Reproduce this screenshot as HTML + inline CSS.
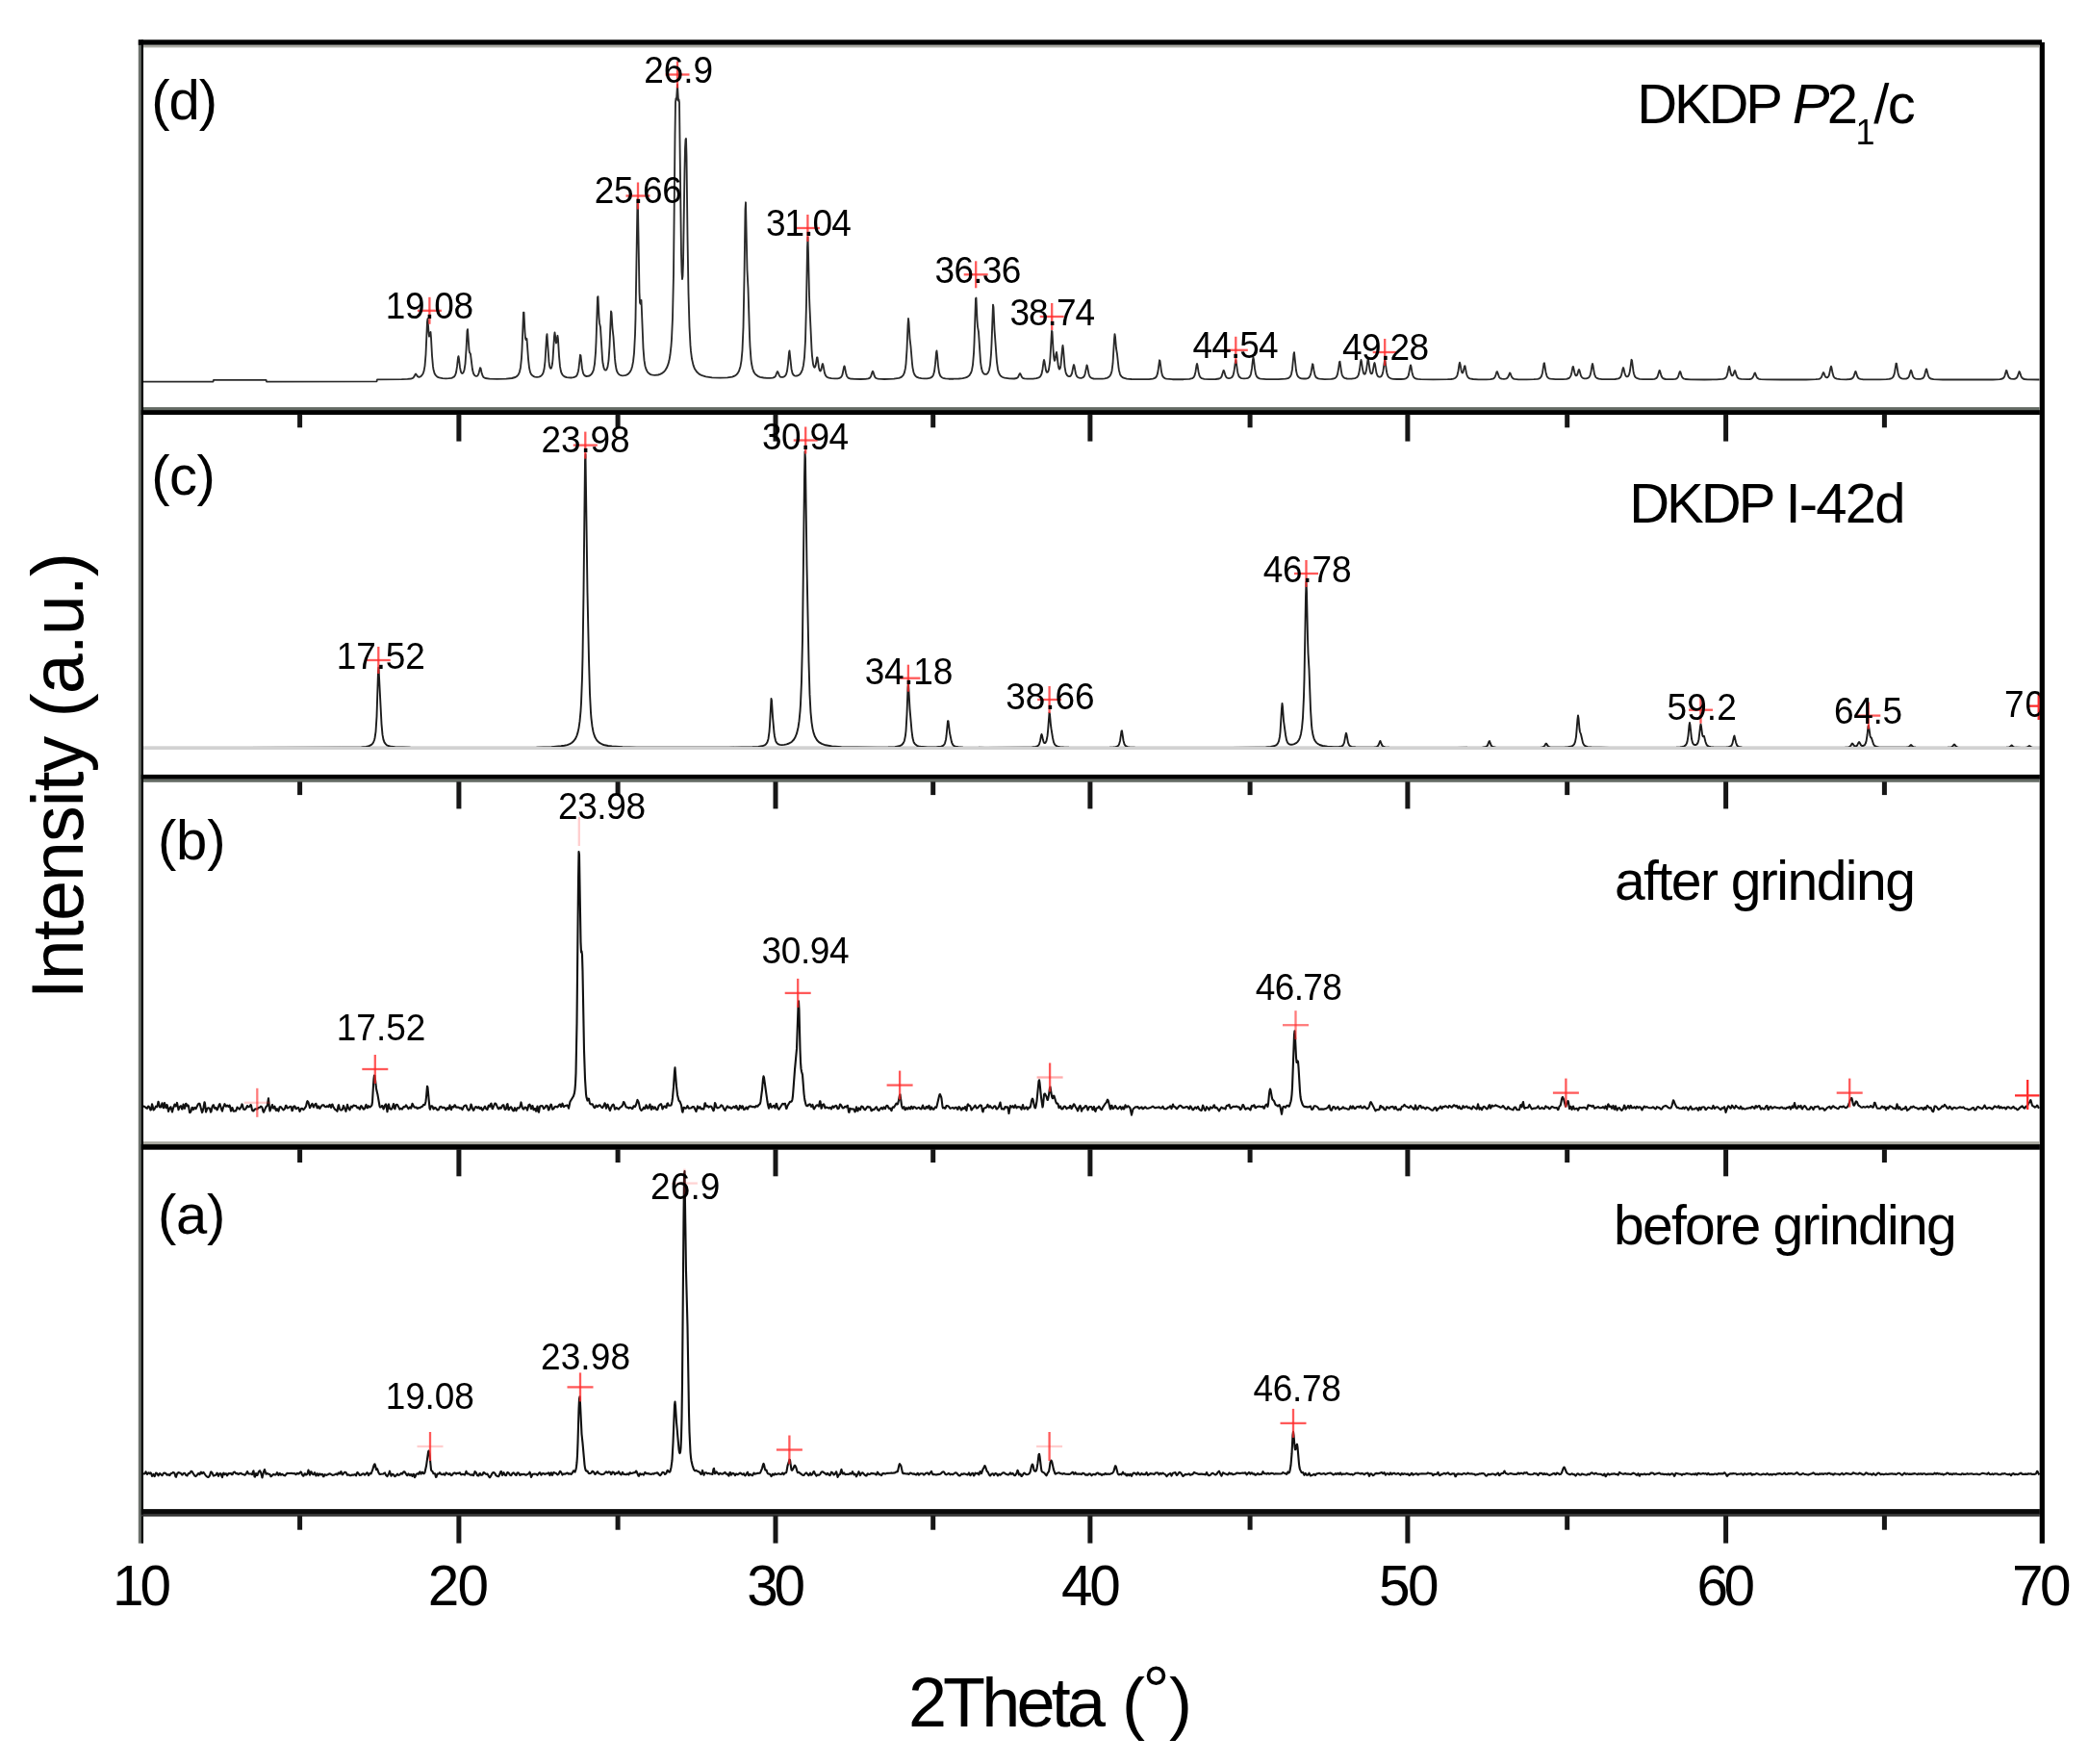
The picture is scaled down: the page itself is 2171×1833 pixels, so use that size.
<!DOCTYPE html>
<html lang="en"><head><meta charset="utf-8"><title>XRD patterns of DKDP before and after grinding</title>
<style>html,body{margin:0;padding:0;background:#fff}body{width:2171px;height:1833px;overflow:hidden}svg{display:block;filter:blur(0.55px)}text{font-family:"Liberation Sans",Arial,Helvetica,sans-serif;fill:#000}.pk{font-size:37px;letter-spacing:-0.4px}.big{font-size:58px}.tk{font-size:58.5px;letter-spacing:-1.2px}</style></head><body>
<svg width="2171" height="1833" viewBox="0 0 2171 1833">
<rect x="0" y="0" width="2171" height="1833" fill="#fff"/>
<g id="curves">
<rect x="149" y="775.3" width="1971" height="3.7" fill="#d2d2d2"/>
<clipPath id="clc"><rect x="140" y="430" width="2000" height="346.1"/></clipPath>
<polyline points="149.0,396.6 221.5,396.6 222.0,394.8 276.5,394.8 277.0,396.6 391.5,396.4 392.0,394.4 417.5,394.2 423.5,393.9 427.0,393.5 428.5,393.1 429.5,392.5 430.5,391.1 431.5,389.1 432.0,388.5 432.5,388.9 434.0,391.2 435.0,391.7 436.0,391.7 437.0,391.3 438.0,390.5 439.5,388.5 440.5,385.8 441.5,380.3 442.5,368.3 444.0,334.1 444.5,331.2 445.5,345.5 446.0,349.7 446.5,349.1 447.0,345.7 447.5,345.0 448.0,351.0 449.0,369.6 450.0,380.9 450.5,384.0 451.5,387.7 452.5,389.6 454.0,391.2 455.5,392.1 457.5,392.7 460.0,393.1 463.5,393.3 466.5,393.2 469.0,392.8 470.5,392.3 472.0,391.4 473.0,390.0 474.0,387.1 475.0,380.9 476.0,371.6 476.5,370.1 477.0,372.9 478.0,381.7 479.0,386.4 479.5,387.4 480.0,387.9 480.5,388.0 481.0,387.7 481.5,387.1 482.5,384.5 483.5,378.1 484.5,363.7 485.5,343.8 486.0,342.1 487.5,363.6 488.0,366.4 488.5,366.9 489.0,368.0 491.0,384.1 492.0,388.0 493.0,389.8 494.0,390.6 495.0,390.9 496.0,390.7 496.5,390.2 497.5,388.1 499.0,382.2 499.5,382.5 500.5,387.0 501.5,390.3 502.5,391.9 503.5,392.6 504.5,393.0 508.5,393.6 516.5,393.9 526.0,393.6 532.0,393.0 535.5,392.0 537.0,391.1 538.0,390.1 539.0,388.7 540.0,386.3 541.0,381.7 542.0,371.8 542.5,363.0 544.0,324.6 544.5,324.6 545.5,345.0 546.0,351.4 546.5,353.0 547.0,351.7 547.5,352.0 549.0,372.8 550.0,382.1 551.0,386.6 552.0,388.8 553.0,390.0 554.5,391.1 556.0,391.6 558.0,391.8 560.0,391.6 561.5,391.1 562.5,390.4 563.5,389.4 564.5,387.5 565.5,383.8 566.5,375.5 568.0,350.0 568.5,347.2 570.5,375.9 571.0,379.6 571.5,381.7 572.0,382.7 572.5,382.9 573.0,382.3 573.5,380.7 574.0,378.0 574.5,373.5 576.0,349.3 576.5,345.5 577.0,348.6 577.5,353.9 578.0,356.5 578.5,355.1 579.0,351.1 579.5,348.8 580.0,352.7 581.0,369.8 582.0,380.9 583.0,386.1 583.5,387.5 584.5,389.4 585.5,390.5 587.0,391.5 589.0,392.1 591.0,392.4 593.5,392.5 596.0,392.2 597.5,391.7 599.0,390.7 600.0,389.1 601.0,385.5 601.5,382.4 603.0,368.8 603.5,369.3 605.0,382.9 606.0,387.6 607.0,389.6 608.0,390.5 609.5,391.0 611.0,390.9 612.5,390.5 613.5,389.9 614.5,389.0 615.5,387.6 616.5,385.4 617.0,383.7 618.0,378.1 619.0,366.2 619.5,355.6 621.0,308.9 621.5,308.1 622.5,329.6 623.0,335.7 624.0,340.0 626.0,372.8 626.5,377.3 627.5,382.2 628.0,383.4 628.5,384.2 629.0,384.6 629.5,384.6 630.0,384.4 630.5,383.8 631.5,381.1 632.5,374.7 633.5,359.8 635.0,323.5 635.5,324.8 636.5,341.1 637.5,350.0 639.0,372.4 639.5,377.5 640.5,383.6 641.0,385.4 642.0,387.5 643.0,388.8 644.0,389.5 645.5,390.1 647.0,390.3 649.0,390.2 650.5,389.8 652.0,389.2 653.5,388.0 655.0,386.1 656.0,384.1 657.0,381.0 658.0,375.9 659.0,366.8 660.0,347.7 660.5,330.6 662.5,207.1 663.0,216.1 664.5,303.8 665.0,314.5 665.5,315.7 666.0,312.0 666.5,312.0 668.5,361.9 669.5,374.4 670.5,380.5 671.5,383.8 673.0,386.6 674.5,388.1 675.5,388.8 677.0,389.4 678.5,389.7 680.5,389.9 684.0,389.5 686.0,388.9 687.5,388.2 689.5,386.8 691.5,384.6 693.0,382.1 694.5,378.2 695.5,374.3 696.5,368.5 697.5,359.3 698.0,352.6 699.0,330.5 700.0,284.4 701.5,139.4 702.0,106.0 702.5,102.1 703.0,103.9 704.0,88.0 705.0,104.7 705.5,103.3 706.0,106.4 708.0,263.5 708.5,282.5 709.0,290.0 709.5,287.1 710.0,273.4 711.5,176.0 712.0,153.9 712.5,145.0 713.0,144.0 713.5,162.6 714.5,245.5 715.5,304.5 716.5,339.5 717.5,358.9 718.0,364.9 719.0,372.8 720.5,379.4 722.0,383.3 724.0,386.3 726.5,388.6 729.5,390.2 733.5,391.3 740.0,392.3 748.5,392.7 756.0,392.4 761.0,391.6 764.0,390.3 765.5,389.2 766.5,388.1 768.0,385.5 769.5,380.7 770.5,374.8 771.5,363.8 772.5,340.1 773.5,288.8 774.5,217.5 775.0,210.3 776.5,280.2 777.5,300.0 779.0,348.6 779.5,360.0 780.5,373.6 781.0,377.5 782.0,382.5 783.0,385.5 784.0,387.5 785.5,389.3 787.5,390.8 790.0,391.8 793.5,392.5 797.0,392.9 800.5,392.9 803.0,392.7 804.5,392.2 805.5,391.4 806.0,390.7 807.5,386.7 808.0,386.0 808.5,386.7 810.0,390.5 811.0,391.6 812.0,391.9 813.5,391.9 815.0,391.3 816.0,390.5 817.0,388.9 818.0,385.5 819.0,377.8 820.0,366.3 820.5,364.5 822.5,383.4 823.5,387.7 824.5,389.5 825.5,390.3 827.0,390.7 828.5,390.5 830.0,389.9 831.5,388.7 832.5,387.3 834.0,383.8 835.0,379.4 836.0,371.2 837.0,353.7 838.0,315.3 839.0,257.0 839.5,246.5 840.0,261.7 841.0,307.2 841.5,320.1 843.5,362.9 844.0,370.0 845.0,378.1 845.5,380.2 846.0,381.4 846.5,381.9 847.0,381.5 847.5,380.2 848.0,377.8 849.0,371.5 849.5,371.4 851.0,381.9 851.5,384.0 852.0,385.2 852.5,385.5 853.0,385.0 853.5,383.7 854.5,379.0 855.0,378.0 855.5,379.6 857.0,387.6 858.0,390.2 859.0,391.4 860.0,392.1 861.5,392.6 864.0,393.1 867.5,393.3 870.5,393.3 872.5,392.9 874.0,392.0 875.0,390.5 875.5,389.2 877.0,381.7 877.5,380.4 878.0,381.7 879.0,387.2 880.0,390.6 880.5,391.5 881.5,392.6 882.5,393.1 884.0,393.5 888.0,393.9 894.5,394.0 899.5,393.9 902.5,393.4 904.0,392.6 905.0,391.2 906.5,386.6 907.0,385.8 907.5,386.6 908.5,390.0 909.5,392.1 910.5,393.0 912.5,393.7 919.0,394.0 929.0,393.7 934.0,392.9 935.5,392.4 937.0,391.6 938.5,390.1 939.5,388.3 940.0,386.9 941.0,382.2 941.5,378.1 942.5,363.0 943.5,338.0 944.0,331.0 944.5,334.7 945.5,351.5 946.5,360.0 948.0,378.0 948.5,382.1 949.5,387.0 950.5,389.4 951.5,390.8 953.0,391.9 955.0,392.7 957.5,393.2 960.5,393.4 963.5,393.3 966.0,392.9 967.5,392.4 969.0,391.3 970.0,389.6 971.0,386.1 972.0,378.2 973.0,366.3 973.5,364.5 974.0,368.4 975.0,380.3 976.0,387.1 977.0,390.1 977.5,390.9 978.5,392.0 980.0,392.8 982.5,393.4 986.0,393.7 991.0,393.7 996.5,393.5 1000.5,393.1 1003.5,392.4 1005.5,391.6 1007.5,390.0 1009.0,387.6 1010.0,384.7 1011.0,379.1 1012.0,367.2 1012.5,356.6 1014.0,310.1 1014.5,309.6 1015.5,332.4 1016.0,339.3 1017.0,345.0 1019.0,375.8 1020.0,382.8 1021.0,386.2 1022.0,387.9 1022.5,388.4 1023.5,388.9 1025.0,388.9 1026.0,388.3 1027.0,387.0 1028.0,384.5 1029.0,379.3 1030.0,367.8 1030.5,357.5 1032.0,316.6 1032.5,319.2 1033.5,342.1 1035.5,370.3 1036.0,376.3 1037.0,383.7 1037.5,385.9 1038.5,388.5 1039.5,390.1 1040.5,391.0 1042.0,392.0 1044.0,392.7 1049.0,393.4 1054.0,393.5 1056.5,393.0 1057.5,392.4 1058.0,391.8 1059.5,388.6 1060.0,388.0 1060.5,388.6 1062.0,391.8 1063.0,392.8 1064.5,393.4 1068.0,393.7 1073.5,393.6 1077.0,393.2 1079.5,392.4 1080.5,391.8 1081.5,390.7 1082.5,388.5 1083.5,383.7 1084.5,376.0 1085.0,374.0 1085.5,375.6 1087.0,384.8 1087.5,386.2 1088.0,386.9 1088.5,386.9 1089.0,386.5 1089.5,385.5 1090.0,383.9 1091.0,377.2 1091.5,371.0 1093.0,343.9 1093.5,344.6 1094.5,362.3 1095.0,369.3 1095.5,373.5 1096.0,374.9 1096.5,374.0 1097.5,367.5 1098.0,366.0 1098.5,368.6 1099.5,378.0 1100.0,381.1 1100.5,382.9 1101.0,383.6 1101.5,383.3 1102.0,381.9 1102.5,379.2 1104.0,362.0 1104.5,359.0 1105.0,362.4 1106.5,381.1 1107.5,386.7 1108.0,388.2 1109.0,390.0 1110.0,390.8 1111.0,391.1 1112.0,391.0 1113.0,390.2 1114.0,388.0 1115.5,380.4 1116.0,379.0 1116.5,380.4 1118.0,388.5 1119.0,390.9 1120.0,392.0 1121.5,392.6 1123.5,392.8 1124.5,392.6 1125.5,392.2 1126.5,391.3 1127.5,389.1 1129.5,379.5 1130.0,380.4 1131.5,388.5 1132.5,391.2 1133.5,392.3 1134.5,392.9 1136.5,393.5 1139.0,393.7 1145.5,393.6 1148.0,393.3 1150.0,392.9 1151.5,392.3 1152.5,391.6 1153.5,390.6 1154.5,388.8 1155.5,385.4 1156.5,377.7 1158.0,352.4 1158.5,347.2 1159.0,349.9 1160.0,362.0 1161.0,368.0 1162.5,381.8 1163.0,385.0 1164.0,388.8 1164.5,389.9 1165.5,391.3 1167.5,392.7 1171.0,393.6 1176.0,394.0 1185.5,394.2 1194.0,394.1 1198.0,393.6 1199.5,393.2 1200.5,392.7 1201.5,391.8 1202.0,391.0 1203.0,388.1 1203.5,385.5 1205.0,374.3 1205.5,374.8 1207.0,386.1 1208.0,390.2 1208.5,391.2 1209.5,392.4 1211.0,393.3 1212.5,393.7 1218.5,394.2 1230.0,394.2 1236.0,393.9 1239.0,393.2 1240.5,392.1 1241.5,390.3 1242.5,386.2 1243.5,379.6 1244.0,378.0 1244.5,379.6 1245.5,386.2 1246.5,390.3 1247.5,392.1 1249.0,393.2 1251.5,393.8 1256.5,394.1 1263.5,394.0 1267.0,393.5 1268.5,392.7 1269.5,391.4 1271.5,385.0 1272.0,385.1 1273.5,390.3 1274.5,392.0 1275.0,392.5 1276.0,392.9 1277.0,393.1 1278.5,392.9 1279.5,392.5 1280.5,391.7 1281.5,390.0 1282.5,386.0 1284.0,374.8 1284.5,374.3 1286.0,385.4 1286.5,388.0 1287.5,390.9 1288.5,392.1 1289.5,392.8 1290.5,393.1 1293.0,393.4 1295.5,393.2 1297.0,392.8 1298.5,391.7 1299.5,390.0 1300.0,388.5 1301.0,382.9 1302.0,373.6 1302.5,371.4 1303.0,373.6 1304.0,382.9 1305.0,388.6 1306.0,391.1 1306.5,391.8 1307.5,392.7 1309.0,393.4 1310.5,393.7 1316.0,394.1 1328.5,394.2 1336.0,393.7 1338.5,393.1 1340.0,392.2 1341.0,391.1 1342.0,388.8 1343.0,383.7 1344.5,367.8 1345.0,366.1 1347.0,385.0 1348.0,389.4 1349.0,391.3 1350.5,392.6 1352.5,393.3 1355.0,393.5 1357.0,393.5 1359.0,393.1 1360.0,392.5 1361.0,391.5 1362.0,389.2 1362.5,387.2 1364.0,378.3 1364.5,378.6 1365.5,385.0 1366.5,389.6 1367.5,391.8 1368.5,392.7 1370.0,393.4 1371.5,393.7 1376.5,394.1 1383.5,393.8 1385.5,393.5 1387.0,393.1 1388.0,392.5 1389.0,391.4 1390.0,388.9 1391.0,383.5 1392.0,376.1 1392.5,375.7 1394.0,386.1 1394.5,388.5 1395.0,390.1 1396.0,391.8 1397.5,392.9 1400.0,393.5 1404.5,393.7 1408.0,393.1 1409.5,392.5 1410.5,391.8 1411.5,390.2 1412.0,388.9 1413.0,384.0 1414.0,376.0 1414.5,374.0 1415.0,375.8 1416.0,383.3 1417.0,387.6 1417.5,388.5 1418.0,388.8 1418.5,388.7 1419.0,388.0 1420.0,384.5 1421.5,373.5 1422.0,373.0 1423.5,383.8 1424.0,386.2 1424.5,387.6 1425.0,388.3 1425.5,388.4 1426.0,387.8 1426.5,386.6 1428.0,378.4 1428.5,377.0 1429.0,378.7 1430.5,387.6 1431.5,390.3 1432.5,391.4 1433.5,391.7 1434.5,391.6 1435.5,391.0 1436.5,389.3 1437.0,387.6 1437.5,385.2 1439.0,374.3 1439.5,374.8 1441.0,386.0 1441.5,388.4 1442.5,391.0 1443.5,392.2 1445.5,393.3 1448.0,393.8 1451.5,394.0 1456.0,394.0 1459.0,393.8 1461.0,393.3 1462.5,392.3 1463.5,390.6 1464.0,389.1 1465.5,380.9 1466.0,379.4 1466.5,380.9 1467.5,386.9 1468.5,390.6 1469.5,392.3 1470.5,393.1 1471.5,393.5 1473.5,393.9 1476.5,394.2 1489.5,394.4 1504.5,394.2 1508.0,394.0 1510.5,393.6 1512.0,393.0 1513.0,392.3 1514.0,391.0 1514.5,389.8 1515.5,385.5 1516.5,378.5 1517.0,376.7 1517.5,378.2 1518.5,384.4 1519.0,386.4 1519.5,387.4 1520.0,387.5 1520.5,386.7 1522.0,380.4 1522.5,380.3 1524.0,388.0 1524.5,389.8 1525.5,391.8 1526.5,392.8 1527.5,393.3 1531.0,394.0 1536.5,394.3 1544.5,394.3 1549.0,394.1 1551.5,393.6 1552.5,393.1 1553.5,392.0 1554.5,389.6 1555.5,386.3 1556.0,386.1 1558.0,391.8 1559.0,393.0 1560.0,393.5 1561.0,393.7 1563.0,393.8 1564.5,393.7 1565.5,393.4 1566.5,392.8 1567.5,391.3 1569.0,387.5 1569.5,387.7 1570.5,390.4 1571.5,392.4 1572.5,393.3 1574.0,393.9 1578.0,394.3 1586.5,394.4 1594.0,394.2 1598.0,393.8 1599.5,393.3 1600.5,392.8 1601.5,391.7 1602.0,390.8 1603.0,387.4 1604.5,377.7 1605.0,377.3 1606.5,386.9 1607.5,390.6 1608.0,391.6 1609.0,392.7 1610.0,393.3 1611.5,393.7 1616.5,394.2 1624.0,394.1 1628.0,393.8 1630.5,393.0 1631.5,392.1 1632.5,390.4 1633.5,386.5 1634.5,381.2 1635.0,380.9 1636.5,387.8 1637.0,389.2 1637.5,390.1 1638.0,390.4 1638.5,390.2 1639.0,389.6 1639.5,388.4 1640.5,384.8 1641.0,384.0 1641.5,385.0 1643.0,390.5 1644.0,392.1 1645.0,392.9 1646.5,393.3 1648.5,393.3 1650.0,392.9 1651.5,391.9 1652.5,390.1 1653.5,386.1 1654.5,379.6 1655.0,378.0 1655.5,379.6 1657.0,388.6 1658.0,391.3 1658.5,392.1 1659.5,392.9 1661.5,393.7 1665.0,394.1 1672.0,394.2 1678.5,394.0 1682.0,393.4 1683.0,392.9 1684.0,392.0 1685.0,389.9 1686.5,383.2 1687.0,382.0 1687.5,383.1 1688.5,387.7 1689.5,390.5 1690.5,391.4 1691.5,391.3 1692.0,391.0 1693.0,389.3 1693.5,387.6 1694.0,385.0 1695.5,373.8 1696.0,374.3 1697.5,385.9 1698.0,388.3 1699.0,391.1 1700.0,392.3 1701.5,393.2 1704.0,393.8 1707.5,394.1 1717.0,394.1 1719.5,393.8 1721.0,393.2 1722.0,392.3 1722.5,391.5 1724.5,385.0 1725.0,385.2 1726.5,390.5 1727.5,392.4 1729.0,393.5 1731.0,394.0 1734.5,394.2 1738.5,394.1 1741.0,393.8 1742.5,393.3 1743.5,392.3 1744.0,391.5 1745.5,386.8 1746.0,386.0 1746.5,386.8 1747.5,390.3 1748.5,392.4 1749.5,393.3 1751.5,394.0 1757.0,394.4 1771.5,394.5 1784.0,394.3 1790.0,393.9 1791.5,393.6 1793.0,392.9 1794.0,391.8 1794.5,390.9 1795.5,387.6 1796.5,382.1 1797.0,380.7 1797.5,381.9 1798.5,387.1 1799.5,389.9 1800.0,390.4 1800.5,390.4 1801.0,389.9 1801.5,388.9 1802.5,385.7 1803.0,385.0 1803.5,386.0 1804.5,389.7 1805.5,391.9 1806.0,392.6 1807.0,393.3 1809.5,393.9 1816.0,394.2 1818.5,394.0 1820.0,393.6 1821.0,393.0 1821.5,392.4 1822.5,390.4 1823.5,387.7 1824.0,387.5 1825.5,391.4 1826.5,392.9 1828.0,393.8 1830.0,394.2 1836.0,394.4 1851.5,394.5 1877.0,394.5 1887.0,394.2 1890.0,393.9 1891.0,393.6 1892.0,393.0 1893.0,391.8 1894.5,387.7 1895.0,387.0 1895.5,387.6 1896.5,390.4 1897.5,391.9 1898.5,392.3 1899.5,392.0 1900.5,390.7 1901.0,389.4 1902.5,382.0 1903.0,380.7 1903.5,382.1 1904.5,387.6 1905.5,391.0 1906.0,391.9 1907.0,392.9 1909.0,393.7 1912.5,394.2 1918.5,394.3 1922.5,394.0 1924.5,393.5 1925.5,392.8 1926.5,391.3 1928.0,386.5 1928.5,386.0 1929.0,387.1 1930.0,390.5 1931.0,392.5 1932.0,393.4 1933.5,393.9 1936.5,394.3 1942.0,394.4 1953.5,394.4 1960.5,394.2 1963.0,393.9 1965.0,393.5 1966.5,392.7 1967.5,391.6 1968.5,389.2 1969.0,387.0 1970.5,377.6 1971.0,377.9 1972.5,387.5 1973.5,390.8 1974.0,391.7 1975.0,392.7 1976.5,393.4 1978.0,393.6 1981.0,393.5 1982.0,393.2 1983.0,392.5 1984.0,390.9 1985.5,385.7 1986.0,384.8 1986.5,385.7 1988.0,391.0 1988.5,391.9 1989.5,393.0 1991.0,393.6 1993.0,393.9 1995.5,393.8 1997.5,393.4 1999.0,392.4 2000.0,390.5 2001.5,384.5 2002.0,383.4 2002.5,384.5 2004.0,390.6 2005.0,392.4 2006.5,393.5 2009.5,394.1 2019.0,394.5 2048.5,394.5 2071.0,394.5 2078.5,394.1 2081.0,393.5 2082.0,392.9 2082.5,392.4 2083.5,390.3 2085.0,385.0 2085.5,385.2 2086.5,388.9 2087.5,391.7 2088.5,392.9 2090.0,393.6 2093.0,393.8 2094.5,393.5 2095.5,392.9 2096.5,391.6 2098.5,386.0 2099.0,386.6 2100.5,391.3 2101.5,392.8 2102.5,393.5 2104.0,394.0 2107.0,394.3 2119.5,394.5" fill="none" stroke="#2a2a2a" stroke-width="1.85" stroke-linejoin="round" />
<polyline points="149.0,777.0 357.0,776.8 375.5,776.4 380.5,775.9 383.5,775.2 386.0,773.9 387.0,772.9 388.0,771.5 389.0,769.0 389.5,767.0 390.5,760.3 391.5,744.8 393.0,697.8 393.5,693.7 396.5,752.3 397.5,763.4 398.5,768.7 399.5,771.4 401.0,773.4 402.0,774.3 403.5,775.0 406.5,775.8 410.5,776.3 426.5,776.8 504.5,776.9 557.5,776.6 573.0,776.1 583.0,775.3 586.5,774.8 589.5,774.1 592.0,773.1 594.0,772.0 596.0,770.3 598.0,767.6 599.5,764.3 600.5,761.1 601.5,756.6 602.5,749.7 603.5,738.8 604.0,730.6 605.0,704.2 605.5,683.1 606.5,615.8 608.0,478.4 608.5,472.0 610.5,615.7 612.0,685.5 613.0,720.7 614.0,740.4 614.5,746.6 615.5,754.9 616.5,760.2 617.5,763.7 618.5,766.3 620.0,768.9 621.5,770.6 623.5,772.2 626.0,773.5 628.5,774.3 632.0,775.0 636.0,775.5 647.0,776.2 661.5,776.6 683.5,776.7 757.0,776.7 782.0,776.3 788.0,775.9 792.0,775.3 794.5,774.4 795.5,773.8 796.5,772.7 797.5,771.0 798.5,767.7 799.5,760.3 800.0,753.7 801.5,726.0 802.0,728.0 803.0,744.5 804.5,761.3 805.0,765.0 806.0,769.5 806.5,770.8 807.5,772.3 809.0,773.4 810.5,773.9 812.5,774.1 815.0,773.9 817.5,773.4 820.0,772.5 821.5,771.7 823.0,770.7 825.0,768.5 826.5,766.0 828.0,762.2 829.5,756.0 830.5,749.4 831.5,739.1 832.0,731.6 833.0,707.9 834.0,664.4 836.0,494.7 836.5,469.3 837.0,476.6 838.5,588.1 840.5,687.5 841.5,721.4 842.5,740.1 843.5,750.6 844.5,757.1 845.5,761.4 847.0,765.6 849.0,769.0 851.0,771.1 854.0,772.9 858.0,774.3 864.5,775.4 874.5,776.1 890.0,776.5 911.5,776.6 923.0,776.5 930.0,776.1 934.5,775.3 937.0,774.1 938.5,772.5 939.5,770.6 940.0,769.2 941.0,764.1 941.5,759.5 942.5,742.2 943.5,714.8 944.0,709.5 945.5,736.3 947.5,759.5 948.5,767.1 949.5,770.8 950.0,771.9 951.0,773.3 953.0,774.8 954.5,775.4 956.5,775.8 964.0,776.4 973.5,776.3 978.0,775.7 979.5,775.2 980.5,774.5 981.5,773.3 982.0,772.3 983.0,768.5 983.5,765.0 985.0,749.1 985.5,749.1 987.0,761.5 989.0,771.1 989.5,772.5 990.5,774.2 991.5,775.1 993.0,775.7 996.0,776.3 1001.0,776.6 1024.0,776.9 1065.0,776.7 1072.5,776.5 1076.5,775.9 1078.5,775.1 1079.5,774.1 1080.0,773.2 1081.0,770.0 1082.0,764.4 1082.5,763.0 1083.0,764.2 1084.0,769.1 1084.5,770.8 1085.0,771.7 1085.5,772.1 1086.0,772.1 1086.5,771.8 1087.5,769.9 1088.5,764.9 1089.0,760.2 1090.5,740.6 1091.0,742.0 1092.0,753.5 1092.5,757.2 1094.0,766.5 1095.0,771.1 1096.0,773.3 1097.0,774.5 1099.0,775.6 1101.5,776.1 1105.5,776.5 1111.0,776.7 1135.5,776.9 1153.0,776.7 1157.0,776.5 1159.5,776.1 1161.5,775.3 1162.5,774.3 1163.0,773.4 1164.0,770.0 1165.5,759.7 1166.0,759.3 1167.5,769.5 1168.5,773.2 1169.5,774.8 1170.5,775.5 1172.0,776.1 1174.0,776.5 1179.5,776.8 1191.5,776.9 1279.0,776.9 1308.0,776.6 1315.5,776.4 1320.5,776.0 1324.0,775.3 1326.0,774.4 1327.0,773.7 1328.0,772.4 1329.0,770.2 1330.0,765.4 1330.5,761.0 1332.0,736.1 1332.5,731.0 1333.0,734.5 1334.0,748.8 1336.0,763.5 1337.0,768.9 1338.0,771.5 1338.5,772.2 1339.5,773.1 1340.5,773.5 1342.0,773.7 1343.5,773.6 1345.0,773.2 1347.0,772.2 1348.5,770.9 1350.0,768.7 1351.0,766.3 1352.0,762.7 1353.0,756.7 1354.0,745.8 1355.0,723.8 1355.5,705.5 1357.0,619.6 1357.5,605.0 1358.0,614.8 1359.0,662.8 1359.5,678.7 1360.5,696.0 1362.0,736.8 1363.0,753.1 1363.5,757.9 1364.5,763.8 1365.5,767.3 1366.5,769.5 1368.0,771.6 1369.5,772.9 1371.5,774.0 1374.5,775.0 1379.5,775.7 1386.5,776.1 1391.5,776.0 1393.0,775.8 1394.5,775.3 1395.5,774.6 1396.0,774.0 1397.0,771.6 1398.5,763.3 1399.0,761.8 1399.5,763.3 1401.0,771.7 1402.0,774.1 1403.0,775.1 1404.5,775.8 1406.5,776.3 1409.0,776.5 1423.5,776.7 1427.5,776.6 1430.0,776.2 1431.0,775.9 1432.0,775.1 1433.0,773.3 1434.0,770.5 1434.5,770.0 1436.0,773.8 1436.5,774.7 1437.5,775.7 1439.5,776.4 1444.0,776.8 1513.5,776.9 1540.5,776.7 1543.5,776.3 1545.0,775.6 1546.0,774.3 1547.5,770.3 1548.0,770.1 1549.5,774.1 1550.5,775.5 1552.0,776.3 1554.5,776.7 1560.5,776.9 1575.5,776.9 1594.5,776.9 1601.0,776.7 1603.0,776.4 1604.5,775.7 1605.5,774.5 1606.5,772.7 1607.0,772.6 1609.0,775.6 1610.0,776.2 1611.0,776.5 1614.0,776.7 1619.0,776.8 1625.5,776.6 1629.5,776.3 1632.5,775.8 1634.5,774.9 1636.0,773.3 1637.0,770.9 1638.0,765.6 1639.5,747.2 1640.0,743.5 1640.5,746.3 1641.5,757.5 1642.0,760.5 1643.0,763.0 1645.0,771.9 1646.0,773.9 1647.5,775.2 1650.0,776.1 1654.0,776.5 1672.5,776.9 1727.5,776.9 1742.0,776.6 1746.0,776.4 1748.5,776.0 1750.5,775.3 1752.0,774.1 1753.0,772.2 1753.5,770.6 1754.5,764.3 1755.5,753.7 1756.0,751.0 1756.5,753.6 1758.0,767.8 1759.0,771.8 1760.0,773.4 1761.0,774.0 1762.5,774.0 1763.5,773.4 1764.5,771.9 1765.5,768.2 1767.0,755.0 1767.5,752.4 1768.0,754.5 1769.0,762.6 1769.5,764.8 1770.0,765.3 1770.5,764.9 1771.0,765.0 1772.5,771.0 1773.5,773.6 1774.5,774.8 1776.0,775.6 1778.0,776.1 1781.0,776.5 1787.5,776.7 1793.5,776.6 1796.5,776.2 1798.5,775.5 1799.5,774.6 1800.5,772.4 1802.0,765.4 1802.5,764.6 1804.0,771.3 1805.0,774.1 1806.0,775.3 1807.0,775.9 1808.5,776.3 1810.5,776.6 1818.5,776.9 1840.5,776.9 1900.5,776.9 1917.5,776.7 1921.0,776.4 1922.5,775.8 1923.5,774.7 1924.5,773.0 1925.0,772.5 1925.5,772.9 1927.0,775.0 1928.0,775.4 1929.0,775.3 1930.0,774.6 1931.5,771.6 1932.0,771.0 1932.5,771.5 1934.0,774.3 1935.0,775.0 1936.0,775.0 1937.0,774.7 1938.0,773.9 1939.0,772.0 1939.5,770.3 1940.5,764.0 1941.5,754.7 1942.0,754.0 1943.5,764.5 1944.0,766.0 1945.0,767.0 1947.0,773.3 1948.0,774.8 1949.0,775.5 1950.5,776.0 1952.5,776.4 1956.5,776.7 1963.0,776.8 1981.0,776.7 1983.5,776.2 1984.5,775.5 1985.5,774.3 1986.0,774.0 1986.5,774.3 1987.5,775.5 1988.5,776.3 1991.0,776.8 2002.0,776.9 2024.0,776.8 2027.0,776.6 2028.5,776.1 2029.5,775.3 2030.5,773.9 2031.0,773.5 2031.5,773.9 2032.5,775.3 2033.5,776.1 2035.0,776.6 2038.0,776.9 2065.5,777.0 2085.0,776.8 2088.0,776.4 2089.0,775.9 2090.5,774.5 2091.0,774.7 2092.0,775.7 2093.0,776.3 2095.0,776.8 2101.0,776.9 2105.5,776.7 2107.0,776.3 2109.0,775.0 2111.0,776.3 2112.0,776.6 2114.5,776.9 2119.5,777.0" fill="none" stroke="#1c1c1c" stroke-width="1.9" stroke-linejoin="round" clip-path="url(#clc)"/>
<polyline points="149.0,1149.1 152.5,1151.7 153.0,1151.8 154.0,1149.5 154.5,1149.5 155.5,1151.0 156.5,1153.5 157.0,1153.1 158.0,1147.4 158.5,1148.8 159.5,1153.4 160.5,1152.6 162.0,1149.5 163.0,1150.3 163.5,1149.6 164.5,1144.7 165.0,1146.1 166.0,1150.4 167.0,1150.4 167.5,1149.5 168.5,1146.3 169.5,1150.9 170.0,1151.3 171.0,1146.0 172.5,1151.3 173.5,1148.0 174.0,1149.1 175.0,1154.9 176.5,1151.2 177.5,1150.2 179.0,1155.4 180.0,1151.6 181.5,1147.6 182.5,1149.5 183.0,1149.3 184.0,1145.9 185.5,1153.2 186.5,1150.5 187.0,1149.8 188.0,1149.2 189.0,1152.5 189.5,1152.5 190.5,1147.6 192.0,1151.8 193.0,1147.0 193.5,1146.9 194.5,1149.4 195.5,1148.4 196.0,1149.4 197.0,1155.8 197.5,1156.1 198.5,1154.8 199.5,1151.0 200.0,1150.9 201.0,1153.0 202.0,1151.1 202.5,1150.8 203.5,1152.2 206.0,1147.3 206.5,1146.9 207.5,1146.7 210.0,1156.1 210.5,1155.0 211.5,1151.0 212.5,1145.2 213.0,1146.7 214.0,1155.5 215.5,1151.7 216.5,1151.3 217.5,1151.5 218.0,1152.0 219.0,1155.6 219.5,1155.0 220.5,1150.3 221.5,1148.2 222.0,1148.3 223.0,1151.8 223.5,1151.7 224.0,1151.2 224.5,1151.0 225.5,1153.3 226.0,1152.9 228.0,1147.4 228.5,1147.2 230.5,1153.7 231.0,1154.6 232.0,1150.8 233.5,1147.1 234.5,1149.2 235.0,1149.7 236.0,1148.6 237.5,1150.1 238.5,1148.5 239.0,1149.7 240.0,1154.5 241.0,1151.3 241.5,1151.0 242.5,1154.5 243.0,1154.7 244.0,1154.4 245.0,1154.5 245.5,1153.6 246.5,1150.5 249.0,1152.6 250.5,1150.3 251.5,1147.4 252.0,1148.2 253.0,1152.5 254.0,1152.9 254.5,1152.9 255.5,1152.0 257.0,1149.0 258.0,1150.3 258.5,1150.3 259.5,1149.6 260.5,1148.0 261.0,1148.5 262.0,1153.5 262.5,1154.2 263.0,1154.4 263.5,1154.4 264.5,1152.9 265.0,1152.5 266.0,1152.3 267.0,1152.5 267.5,1152.3 268.5,1151.1 270.0,1150.7 271.0,1149.6 271.5,1149.8 272.5,1150.9 273.5,1155.0 274.0,1155.7 276.5,1150.1 277.5,1149.4 278.0,1147.4 279.0,1141.2 280.0,1151.7 280.5,1154.4 283.0,1148.0 284.0,1151.4 284.5,1151.6 285.5,1149.7 286.5,1153.2 287.0,1153.9 288.0,1152.1 289.0,1154.0 289.5,1154.6 290.5,1150.7 291.0,1150.0 292.0,1150.3 294.5,1153.3 295.5,1152.6 296.0,1152.0 297.0,1148.8 297.5,1148.9 298.5,1151.4 300.0,1150.9 301.0,1150.1 302.0,1149.7 302.5,1149.9 303.5,1154.2 304.0,1153.9 305.0,1150.1 306.0,1149.3 306.5,1149.6 307.5,1152.2 308.0,1152.1 309.0,1151.3 310.0,1150.9 310.5,1151.7 311.5,1154.9 313.0,1152.1 314.0,1151.8 315.5,1153.1 316.5,1151.9 318.0,1149.6 319.0,1145.3 319.5,1144.2 320.5,1145.4 322.0,1151.2 323.0,1149.0 324.5,1146.8 325.5,1150.0 326.0,1150.5 327.0,1148.2 328.0,1147.0 328.5,1146.9 329.5,1151.0 330.0,1151.3 331.0,1149.4 332.0,1151.5 332.5,1151.8 333.5,1150.0 334.5,1148.8 335.0,1148.4 336.0,1148.2 336.5,1148.5 337.5,1149.8 338.5,1150.2 339.0,1150.2 340.0,1149.2 341.0,1150.0 341.5,1150.1 342.5,1147.9 343.0,1148.3 344.0,1151.0 345.0,1147.8 345.5,1147.5 346.5,1150.3 347.5,1151.9 348.0,1152.6 349.0,1153.3 350.5,1154.8 351.5,1149.1 352.0,1148.2 353.0,1152.3 353.5,1153.0 354.5,1153.6 355.5,1153.3 356.0,1152.2 357.0,1148.9 359.5,1154.9 361.0,1147.9 362.0,1151.3 362.5,1152.3 363.5,1153.4 364.5,1150.3 365.0,1149.6 366.0,1150.7 367.5,1148.5 368.5,1149.0 370.0,1149.1 371.0,1150.8 371.5,1151.2 372.5,1150.7 373.5,1152.3 374.0,1152.7 375.0,1149.4 375.5,1149.1 376.5,1150.5 377.5,1152.3 378.0,1152.7 379.0,1152.0 380.0,1148.9 380.5,1147.9 381.5,1151.3 382.0,1151.3 383.0,1149.1 384.0,1150.3 384.5,1150.5 386.0,1149.1 386.5,1148.0 387.0,1145.0 388.0,1127.6 388.5,1120.8 389.0,1117.5 389.5,1117.7 391.0,1130.7 391.5,1133.6 392.5,1137.6 394.5,1149.3 395.0,1150.5 395.5,1150.5 396.0,1150.3 397.0,1149.0 397.5,1149.2 398.5,1152.5 399.0,1151.6 400.0,1148.7 401.0,1147.3 401.5,1149.0 402.5,1155.3 403.5,1148.6 404.0,1147.4 405.0,1151.8 405.5,1152.4 406.5,1152.8 407.5,1151.5 409.0,1147.1 410.0,1151.8 410.5,1152.3 411.5,1148.1 412.0,1147.8 413.0,1148.1 415.5,1152.7 416.5,1151.8 417.0,1151.8 418.0,1152.6 419.5,1150.0 420.5,1150.4 421.0,1150.0 422.0,1148.4 424.5,1152.1 426.0,1150.4 427.0,1151.7 427.5,1150.7 428.5,1146.7 430.0,1149.8 431.0,1150.8 432.5,1150.5 433.5,1151.8 434.0,1151.9 435.0,1151.1 436.0,1151.2 436.5,1151.1 437.5,1150.2 439.0,1149.7 440.0,1148.0 440.5,1147.9 441.0,1148.1 441.5,1147.9 442.0,1146.5 442.5,1144.2 443.0,1140.0 444.0,1128.7 444.5,1130.2 446.5,1151.6 447.0,1152.7 448.0,1149.2 449.0,1149.2 449.5,1149.7 450.5,1152.4 451.0,1152.1 452.0,1150.9 453.0,1151.5 454.5,1153.4 455.5,1153.3 456.0,1152.8 457.0,1150.3 457.5,1150.0 458.5,1149.9 459.5,1151.2 460.0,1151.3 461.0,1150.6 462.0,1151.0 462.5,1151.5 463.5,1153.5 465.0,1151.1 466.0,1152.3 466.5,1151.6 467.5,1148.4 468.5,1152.5 469.0,1153.1 470.0,1150.0 470.5,1150.0 471.0,1150.4 471.5,1150.5 472.5,1148.3 473.0,1148.5 474.0,1150.6 476.5,1150.5 478.0,1151.8 479.0,1151.2 479.5,1151.5 480.5,1153.1 482.0,1149.8 483.0,1148.9 484.0,1148.5 484.5,1148.7 485.5,1151.7 486.0,1152.6 487.0,1153.7 488.0,1152.9 488.5,1151.9 489.5,1147.5 490.0,1148.5 491.0,1152.0 492.0,1153.8 492.5,1153.4 493.5,1151.1 494.5,1150.1 495.0,1150.1 496.0,1151.5 497.5,1150.1 498.5,1152.0 499.0,1152.0 500.0,1150.9 501.0,1153.3 501.5,1153.7 504.0,1149.6 505.0,1151.8 505.5,1152.4 506.5,1153.0 507.5,1149.4 508.0,1148.6 509.0,1149.9 510.0,1147.2 510.5,1146.5 511.5,1151.8 512.0,1152.1 514.0,1147.1 514.5,1146.5 515.5,1147.1 517.0,1150.6 518.0,1152.2 518.5,1152.1 519.5,1150.7 520.5,1151.7 521.0,1151.4 522.0,1148.8 523.0,1148.2 523.5,1148.5 524.5,1152.6 525.0,1153.1 526.0,1152.0 527.0,1147.4 527.5,1147.2 528.5,1153.1 529.0,1152.9 530.0,1151.1 531.0,1150.2 531.5,1150.7 532.5,1153.1 533.5,1154.4 534.0,1154.2 535.0,1151.2 536.5,1154.2 537.5,1151.5 538.0,1151.1 539.0,1151.6 540.0,1150.8 540.5,1149.7 541.5,1145.4 543.0,1151.5 544.0,1152.6 544.5,1152.3 545.5,1150.6 546.5,1150.7 547.0,1151.2 548.0,1153.6 549.5,1148.1 550.5,1147.7 551.0,1148.7 552.0,1152.3 553.0,1149.2 553.5,1149.1 554.5,1153.3 555.0,1153.0 555.5,1152.1 556.0,1151.8 557.0,1154.7 557.5,1153.9 558.5,1149.5 559.5,1155.2 560.0,1155.7 561.0,1150.0 561.5,1149.4 563.5,1149.0 564.0,1149.7 565.0,1152.1 566.5,1150.8 567.5,1148.9 568.5,1149.0 569.0,1149.5 570.0,1153.4 570.5,1153.3 571.5,1150.0 572.5,1147.7 573.0,1148.0 574.0,1152.5 574.5,1152.7 575.5,1151.9 576.5,1150.2 577.0,1149.9 578.0,1149.8 579.0,1150.5 579.5,1150.4 581.0,1148.2 581.5,1147.7 582.0,1147.5 583.0,1150.1 583.5,1149.7 584.5,1146.7 585.5,1149.5 586.0,1150.2 587.0,1149.3 589.5,1148.4 590.0,1149.1 591.0,1151.7 592.5,1144.7 596.0,1139.0 597.0,1135.6 597.5,1132.1 598.0,1126.2 598.5,1115.1 599.5,1063.3 601.0,914.9 601.5,885.0 602.0,887.9 603.5,978.6 604.0,989.5 604.5,988.5 605.0,992.1 605.5,1009.4 607.0,1091.3 608.0,1121.0 609.0,1136.8 609.5,1140.3 610.5,1143.6 611.5,1141.6 612.0,1141.8 613.0,1146.6 613.5,1147.2 614.0,1147.4 615.5,1147.2 616.0,1147.9 617.0,1150.2 618.0,1151.1 618.5,1150.9 619.5,1148.7 621.0,1150.1 622.0,1148.8 622.5,1148.5 623.5,1148.4 625.0,1150.5 626.0,1151.2 627.5,1148.9 628.5,1146.3 629.0,1147.1 630.0,1151.7 631.0,1148.2 631.5,1147.7 633.5,1153.2 634.0,1154.0 635.0,1151.1 636.5,1148.2 637.5,1147.7 638.0,1148.5 639.0,1152.7 639.5,1152.4 640.5,1151.0 643.0,1152.6 644.5,1150.6 645.5,1150.2 647.0,1148.5 648.0,1145.1 648.5,1145.2 650.5,1150.0 651.0,1150.6 652.0,1150.5 653.5,1151.6 654.5,1150.7 655.0,1150.7 656.0,1151.2 657.0,1152.2 657.5,1151.9 658.5,1149.3 659.0,1149.4 659.5,1149.9 660.0,1150.0 661.0,1148.0 662.5,1142.9 663.5,1145.0 664.0,1146.6 665.0,1151.4 665.5,1152.5 666.5,1154.0 667.5,1153.2 669.0,1150.7 670.0,1152.1 670.5,1151.8 671.5,1148.3 672.0,1149.1 673.0,1151.7 674.0,1151.2 675.5,1147.5 676.5,1152.2 677.0,1152.9 678.0,1149.7 678.5,1150.3 679.5,1152.1 680.5,1150.3 681.0,1150.6 682.0,1152.9 683.0,1153.3 683.5,1152.8 684.5,1149.4 685.0,1148.7 686.0,1147.6 687.0,1147.1 687.5,1148.2 688.5,1152.4 690.0,1149.8 691.0,1149.4 692.0,1150.8 692.5,1151.0 693.5,1146.6 694.0,1146.4 695.0,1148.8 697.0,1148.6 697.5,1148.3 698.0,1146.9 698.5,1144.4 699.0,1140.7 700.0,1129.4 701.0,1113.3 701.5,1109.3 703.0,1128.9 704.0,1137.7 705.5,1143.7 706.0,1144.3 706.5,1144.4 708.0,1148.4 709.0,1154.8 709.5,1155.7 710.5,1150.7 711.0,1150.7 712.0,1151.6 713.0,1151.6 713.5,1151.0 714.5,1149.1 715.5,1151.2 716.0,1151.8 718.5,1151.3 719.5,1150.2 720.0,1150.0 721.0,1150.0 723.5,1155.0 725.0,1149.4 726.0,1151.5 726.5,1151.5 727.5,1150.2 728.5,1151.9 729.0,1152.4 730.0,1151.8 731.0,1152.6 731.5,1152.4 732.5,1146.5 733.0,1146.3 734.0,1149.7 735.0,1149.1 735.5,1149.2 736.5,1150.6 738.0,1149.5 739.0,1149.6 739.5,1150.2 741.5,1154.2 742.0,1153.3 743.0,1146.0 743.5,1146.8 744.5,1150.4 745.5,1151.3 746.0,1151.4 748.0,1150.4 748.5,1149.9 749.5,1148.4 750.0,1148.5 751.0,1149.3 752.0,1151.8 753.5,1154.0 755.0,1150.8 756.0,1149.4 757.5,1151.0 758.5,1150.5 759.0,1150.8 760.0,1152.0 761.5,1150.9 762.5,1149.8 764.0,1151.1 765.0,1149.0 765.5,1149.5 766.5,1152.5 767.5,1153.1 768.0,1152.5 769.0,1148.9 769.5,1149.5 770.5,1151.5 771.5,1149.3 772.0,1149.8 773.0,1153.0 774.0,1152.7 774.5,1152.3 775.5,1150.5 777.0,1152.5 778.0,1150.3 778.5,1149.8 779.5,1149.4 781.0,1149.7 782.0,1150.3 783.5,1150.0 784.5,1150.6 785.0,1150.3 786.0,1149.0 787.0,1149.7 787.5,1149.6 788.5,1148.0 789.5,1147.5 790.0,1146.6 790.5,1144.2 792.0,1132.5 793.0,1121.2 793.5,1118.4 794.0,1119.7 797.5,1144.8 798.0,1147.7 799.0,1151.7 800.0,1147.4 800.5,1146.8 801.5,1150.6 802.0,1150.6 804.0,1148.8 804.5,1149.3 805.5,1151.4 806.5,1147.3 807.0,1146.8 808.0,1150.6 809.0,1152.4 809.5,1152.8 813.0,1147.2 813.5,1146.9 814.5,1147.5 815.5,1146.8 816.0,1146.9 817.0,1151.9 817.5,1152.0 818.5,1149.0 821.0,1144.9 822.0,1144.9 822.5,1144.6 823.0,1143.9 823.5,1142.2 824.0,1138.5 826.0,1111.7 828.0,1089.9 829.5,1045.9 830.0,1040.3 830.5,1049.5 831.5,1090.4 832.0,1103.4 832.5,1110.4 833.0,1113.3 834.0,1116.9 835.5,1136.5 836.0,1140.7 836.5,1143.8 837.5,1147.7 838.0,1148.8 839.0,1149.3 839.5,1149.1 840.5,1147.7 841.5,1147.4 842.0,1147.5 843.0,1149.9 843.5,1149.8 844.5,1147.9 845.5,1151.8 846.0,1152.5 847.0,1150.7 848.5,1148.5 849.5,1148.4 851.0,1149.6 852.0,1144.4 852.5,1144.4 853.5,1151.8 854.0,1151.1 855.0,1147.9 856.0,1147.3 856.5,1148.1 857.5,1151.4 858.5,1150.7 859.0,1150.5 861.5,1151.6 862.5,1150.7 863.0,1150.9 864.0,1152.4 865.0,1149.9 865.5,1149.4 866.5,1150.8 868.0,1149.2 869.0,1148.8 869.5,1149.5 870.5,1152.1 871.5,1152.0 872.0,1151.2 873.0,1147.5 873.5,1147.7 874.0,1148.3 875.5,1151.0 876.0,1151.4 877.0,1151.2 878.0,1150.0 878.5,1149.8 879.5,1150.5 880.5,1148.9 881.0,1148.9 882.0,1155.6 882.5,1155.8 883.5,1151.8 885.0,1152.6 886.0,1152.2 887.0,1152.5 887.5,1153.0 888.5,1155.4 889.0,1154.6 890.0,1150.3 891.0,1154.0 891.5,1154.5 892.5,1151.4 894.0,1153.1 895.0,1150.1 895.5,1149.6 896.5,1149.9 898.0,1152.4 899.0,1153.3 901.5,1149.8 902.0,1149.9 903.0,1150.7 904.0,1150.2 904.5,1150.7 905.5,1154.2 906.0,1154.0 907.0,1152.7 908.0,1153.2 908.5,1152.9 910.5,1150.3 911.0,1150.4 912.0,1152.9 913.0,1153.8 913.5,1153.9 914.5,1152.3 916.0,1150.9 917.0,1152.5 917.5,1152.5 918.5,1150.4 920.0,1152.1 921.0,1149.4 921.5,1148.9 922.5,1149.1 923.5,1151.3 924.0,1151.9 925.0,1151.5 926.0,1153.5 926.5,1154.1 927.5,1150.9 928.0,1150.3 929.0,1150.7 931.5,1146.6 932.5,1147.5 933.0,1147.2 934.0,1143.3 935.0,1138.0 935.5,1137.4 937.0,1148.5 937.5,1150.4 938.0,1151.7 938.5,1151.5 939.5,1150.1 940.5,1153.1 941.0,1153.1 942.0,1151.1 943.0,1152.5 943.5,1152.5 944.5,1150.6 946.0,1152.4 947.0,1149.7 947.5,1149.8 948.5,1152.1 949.5,1150.5 950.0,1150.1 951.0,1150.6 952.5,1152.0 953.5,1151.4 955.0,1150.8 956.5,1152.3 957.5,1152.4 959.0,1148.6 960.0,1151.4 960.5,1152.0 961.5,1152.2 962.5,1150.1 963.0,1149.8 964.0,1151.4 965.0,1149.4 965.5,1148.8 966.5,1152.7 967.0,1152.8 968.0,1150.4 969.5,1152.6 970.5,1152.8 972.0,1150.3 973.0,1150.9 973.5,1149.8 976.0,1139.0 976.5,1137.2 977.0,1137.1 978.0,1139.6 978.5,1141.6 979.5,1149.9 980.0,1151.3 981.0,1150.8 982.0,1151.9 982.5,1151.7 983.5,1149.1 984.0,1149.0 985.0,1149.2 986.0,1149.9 987.5,1151.9 990.0,1150.9 991.5,1152.0 992.5,1150.9 993.0,1150.7 994.0,1150.9 995.0,1152.8 995.5,1152.8 996.5,1150.1 997.0,1150.3 998.0,1151.5 999.0,1153.5 999.5,1153.3 1000.5,1151.1 1001.5,1152.0 1002.0,1151.9 1003.0,1150.0 1004.0,1153.1 1004.5,1153.9 1005.5,1148.0 1006.0,1147.3 1007.0,1148.9 1008.0,1149.0 1008.5,1149.8 1009.5,1153.5 1010.0,1153.2 1011.0,1151.5 1012.0,1150.7 1013.5,1148.6 1014.5,1150.9 1015.0,1151.6 1016.0,1151.2 1018.5,1148.5 1019.0,1148.4 1020.0,1149.0 1021.0,1154.4 1021.5,1155.4 1022.5,1151.9 1023.0,1151.4 1025.0,1150.7 1026.5,1147.8 1027.5,1150.3 1028.0,1150.7 1029.0,1149.2 1030.5,1151.1 1031.5,1151.7 1032.0,1151.3 1033.0,1149.7 1034.0,1149.2 1034.5,1149.7 1035.5,1152.5 1036.0,1152.4 1037.0,1151.4 1038.0,1150.1 1039.5,1145.5 1040.5,1150.9 1041.0,1152.4 1042.0,1152.1 1043.0,1152.7 1043.5,1152.7 1044.5,1150.2 1045.0,1150.0 1046.0,1150.8 1047.0,1150.3 1047.5,1151.3 1048.5,1157.0 1050.0,1149.0 1051.0,1150.4 1051.5,1150.4 1052.5,1149.2 1053.5,1150.9 1054.0,1150.9 1055.0,1148.3 1056.5,1151.4 1057.5,1150.2 1058.0,1150.1 1059.0,1150.4 1060.0,1150.3 1060.5,1150.7 1061.5,1152.9 1063.0,1148.1 1064.0,1151.8 1064.5,1152.3 1065.5,1151.7 1066.5,1150.4 1067.0,1150.5 1068.0,1152.7 1068.5,1152.2 1069.5,1150.5 1070.5,1150.9 1071.0,1149.4 1072.0,1143.9 1072.5,1142.4 1073.0,1141.6 1073.5,1142.5 1075.0,1149.8 1075.5,1151.0 1076.0,1151.4 1076.5,1149.7 1077.5,1144.1 1079.5,1123.5 1080.0,1122.3 1080.5,1125.1 1082.0,1140.3 1083.5,1150.5 1084.0,1148.5 1085.0,1137.6 1085.5,1136.5 1086.0,1136.6 1087.5,1139.4 1088.5,1143.0 1089.0,1142.9 1090.0,1137.8 1091.0,1130.3 1091.5,1129.5 1093.0,1138.9 1093.5,1140.7 1094.0,1141.3 1095.0,1138.6 1095.5,1138.9 1097.5,1145.5 1098.0,1146.5 1098.5,1146.7 1099.0,1146.5 1099.5,1147.2 1100.5,1151.3 1101.0,1150.9 1101.5,1149.9 1102.0,1149.4 1103.0,1151.9 1103.5,1152.4 1104.5,1152.2 1105.5,1150.2 1106.0,1149.6 1107.0,1149.8 1108.5,1152.1 1109.5,1151.3 1110.0,1151.1 1111.0,1151.3 1112.0,1149.1 1112.5,1149.0 1113.5,1152.1 1114.0,1151.5 1116.0,1147.3 1116.5,1147.6 1117.5,1149.8 1119.0,1152.1 1120.0,1154.4 1121.5,1150.1 1122.5,1148.9 1123.0,1150.0 1124.0,1154.6 1125.0,1152.0 1125.5,1151.2 1126.5,1151.5 1128.0,1149.1 1129.0,1149.2 1129.5,1150.2 1130.5,1153.5 1132.0,1150.4 1133.0,1150.0 1134.0,1150.0 1134.5,1150.3 1135.5,1153.1 1136.0,1152.8 1137.0,1149.9 1138.0,1154.3 1138.5,1154.9 1139.5,1151.7 1140.0,1151.3 1141.0,1151.2 1142.0,1149.6 1142.5,1150.0 1143.5,1152.0 1144.5,1153.2 1145.0,1153.1 1146.0,1150.8 1148.5,1147.0 1150.0,1145.4 1150.5,1143.6 1151.0,1142.7 1151.5,1143.2 1152.0,1144.7 1153.5,1151.3 1154.0,1152.5 1155.0,1148.8 1155.5,1148.9 1156.5,1152.1 1157.5,1151.4 1158.0,1150.8 1159.0,1149.0 1160.5,1151.4 1161.5,1152.3 1162.0,1152.2 1164.0,1149.8 1164.5,1150.0 1165.5,1152.7 1167.0,1150.4 1168.0,1152.5 1168.5,1151.8 1169.5,1148.3 1170.5,1150.4 1171.0,1150.7 1172.0,1149.3 1172.5,1149.4 1173.5,1150.2 1174.5,1151.5 1176.0,1158.6 1177.5,1152.5 1180.0,1150.3 1181.0,1150.4 1182.5,1150.1 1183.5,1151.6 1184.0,1151.9 1185.5,1150.8 1186.5,1150.4 1187.5,1152.1 1188.0,1152.1 1190.0,1150.4 1190.5,1150.4 1191.5,1151.7 1193.0,1151.7 1195.5,1151.1 1198.0,1149.6 1200.5,1151.3 1201.0,1151.2 1202.0,1150.8 1203.5,1150.7 1204.5,1150.2 1206.0,1151.5 1207.0,1151.4 1208.5,1149.7 1209.5,1151.7 1210.0,1152.3 1212.0,1152.3 1212.5,1152.2 1213.5,1151.0 1214.0,1150.7 1215.0,1150.7 1216.0,1149.4 1216.5,1149.5 1217.5,1152.0 1219.0,1147.6 1220.0,1149.9 1220.5,1150.3 1221.5,1150.4 1222.5,1152.0 1223.0,1152.2 1225.5,1149.3 1226.5,1148.7 1227.0,1148.9 1229.5,1151.1 1231.0,1150.9 1232.0,1150.6 1233.0,1150.0 1233.5,1150.0 1234.5,1150.6 1235.5,1152.2 1236.0,1152.1 1237.0,1149.4 1237.5,1149.7 1238.0,1150.5 1239.5,1153.3 1240.0,1153.3 1242.0,1150.6 1242.5,1150.5 1243.5,1151.9 1245.0,1149.9 1246.0,1152.1 1246.5,1152.8 1247.5,1153.6 1248.5,1154.0 1249.0,1153.2 1250.0,1148.6 1250.5,1149.4 1251.5,1152.3 1252.5,1153.9 1253.0,1153.3 1254.0,1150.1 1255.5,1151.7 1256.5,1153.3 1258.0,1150.3 1259.0,1151.5 1259.5,1151.5 1260.5,1150.9 1261.5,1148.5 1262.0,1148.4 1263.0,1151.3 1263.5,1151.3 1264.5,1150.8 1267.0,1154.4 1268.5,1151.8 1269.5,1150.5 1271.0,1151.7 1272.0,1151.4 1272.5,1151.6 1273.5,1152.6 1274.5,1149.5 1275.0,1148.7 1276.0,1149.0 1277.0,1148.0 1277.5,1147.9 1278.5,1151.2 1279.0,1151.6 1281.5,1149.9 1282.5,1149.8 1284.0,1150.0 1285.0,1149.5 1285.5,1149.7 1286.5,1150.4 1287.5,1150.2 1288.0,1150.6 1289.0,1153.0 1289.5,1152.7 1290.5,1151.1 1291.5,1148.0 1292.0,1148.0 1294.0,1152.2 1294.5,1152.7 1295.5,1151.7 1297.0,1151.4 1298.0,1152.0 1299.5,1153.5 1300.5,1149.9 1301.0,1149.0 1302.0,1149.6 1303.0,1148.5 1303.5,1148.3 1304.5,1151.1 1305.0,1151.3 1306.0,1150.2 1307.5,1149.7 1308.5,1149.5 1311.0,1150.3 1312.5,1149.7 1313.5,1151.8 1314.0,1151.8 1315.0,1148.7 1316.0,1147.7 1316.5,1147.5 1317.0,1149.0 1317.5,1149.9 1318.0,1147.3 1319.0,1136.6 1319.5,1133.2 1320.0,1131.6 1320.5,1132.6 1322.0,1141.1 1322.5,1142.6 1324.0,1144.0 1325.5,1147.8 1326.0,1148.3 1327.0,1148.6 1328.0,1149.5 1329.5,1148.0 1330.5,1150.2 1332.0,1157.8 1333.0,1151.9 1333.5,1150.1 1334.5,1149.7 1336.0,1150.9 1337.0,1149.2 1337.5,1148.9 1338.5,1148.9 1339.5,1149.8 1340.0,1149.4 1341.5,1144.5 1342.0,1142.0 1342.5,1137.5 1343.0,1130.1 1345.0,1075.4 1345.5,1071.2 1346.0,1077.6 1347.0,1098.5 1347.5,1103.9 1348.0,1104.1 1348.5,1102.4 1349.0,1103.1 1349.5,1109.0 1351.0,1134.1 1351.5,1139.5 1352.0,1142.7 1353.5,1147.3 1354.0,1148.4 1355.0,1149.6 1355.5,1149.9 1359.0,1150.4 1360.5,1150.2 1361.5,1149.5 1362.0,1149.6 1363.0,1152.7 1363.5,1153.0 1364.5,1152.3 1365.5,1149.9 1366.0,1149.2 1367.0,1149.3 1368.5,1149.9 1369.5,1150.7 1371.0,1152.8 1372.5,1152.4 1376.0,1152.6 1378.5,1151.7 1380.0,1150.8 1381.0,1148.9 1381.5,1148.6 1382.5,1152.7 1383.0,1153.6 1384.0,1153.7 1385.0,1150.9 1385.5,1150.0 1386.5,1150.0 1388.0,1152.4 1389.0,1151.3 1390.5,1150.2 1391.5,1152.6 1392.0,1153.1 1393.0,1152.0 1394.5,1152.0 1395.5,1150.4 1396.0,1150.4 1397.0,1151.7 1398.5,1151.6 1401.0,1152.7 1402.0,1152.7 1402.5,1151.9 1403.5,1149.4 1404.5,1151.4 1405.0,1151.6 1406.0,1149.4 1407.5,1151.9 1408.5,1152.0 1410.0,1150.3 1411.0,1149.9 1411.5,1149.9 1412.5,1150.8 1414.0,1149.2 1415.0,1151.1 1415.5,1151.4 1416.5,1151.3 1417.5,1149.8 1418.0,1149.6 1420.5,1152.3 1421.5,1151.8 1422.5,1150.6 1423.0,1149.6 1424.0,1146.1 1424.5,1145.2 1425.0,1145.5 1425.5,1146.4 1429.5,1154.4 1430.5,1153.3 1431.0,1153.1 1432.0,1153.3 1432.5,1153.2 1433.0,1153.1 1433.5,1152.6 1434.5,1149.1 1435.0,1149.0 1436.0,1150.6 1437.0,1150.4 1437.5,1150.7 1438.5,1152.7 1439.5,1153.3 1440.0,1153.3 1441.0,1150.5 1441.5,1150.2 1443.5,1151.6 1444.0,1151.6 1445.0,1150.3 1447.5,1149.9 1448.0,1150.5 1449.0,1152.3 1450.0,1150.2 1450.5,1150.1 1451.5,1152.5 1452.5,1153.3 1453.0,1153.5 1454.0,1152.4 1454.5,1152.4 1455.5,1153.3 1456.5,1150.7 1457.0,1149.9 1458.0,1149.8 1459.5,1147.9 1460.5,1149.2 1461.0,1149.5 1462.0,1149.9 1463.5,1150.9 1464.5,1151.2 1466.0,1149.2 1469.5,1152.8 1470.0,1152.3 1471.0,1148.4 1472.5,1152.9 1473.5,1152.4 1475.0,1149.3 1476.0,1148.9 1476.5,1149.2 1477.5,1151.4 1478.0,1151.2 1479.0,1150.4 1481.5,1152.3 1482.5,1150.9 1483.0,1150.6 1485.5,1151.8 1486.5,1152.7 1488.0,1153.6 1489.0,1153.6 1489.5,1153.2 1490.5,1151.5 1491.5,1150.9 1492.0,1150.9 1493.0,1153.9 1493.5,1153.9 1494.5,1151.9 1495.5,1151.7 1496.0,1151.3 1497.0,1149.5 1498.5,1152.0 1499.5,1150.2 1500.0,1149.9 1501.0,1150.3 1502.0,1149.3 1502.5,1149.2 1504.0,1150.5 1505.0,1150.9 1506.0,1149.1 1506.5,1149.0 1508.5,1150.6 1509.0,1150.6 1510.0,1149.3 1511.0,1148.4 1511.5,1148.3 1512.5,1149.5 1513.0,1149.6 1514.0,1148.9 1515.0,1151.2 1515.5,1151.5 1516.5,1149.7 1518.0,1152.1 1519.0,1152.3 1519.5,1151.6 1520.5,1149.2 1521.5,1150.6 1522.0,1150.9 1524.0,1149.6 1524.5,1149.5 1525.5,1151.2 1526.0,1151.3 1527.0,1150.6 1528.5,1152.1 1529.5,1152.5 1531.0,1149.5 1534.5,1152.5 1535.0,1151.8 1536.0,1147.2 1537.5,1152.7 1538.5,1151.1 1539.0,1151.3 1540.0,1153.2 1541.5,1150.3 1542.5,1149.8 1544.0,1151.2 1545.0,1152.4 1545.5,1152.3 1546.5,1151.0 1547.5,1148.4 1548.0,1148.2 1549.0,1151.6 1549.5,1151.0 1550.5,1148.7 1551.5,1149.4 1552.0,1149.5 1553.0,1149.3 1554.0,1148.5 1554.5,1148.4 1555.5,1149.1 1558.0,1150.0 1559.5,1150.9 1561.0,1150.2 1562.0,1149.0 1564.5,1152.1 1565.0,1152.4 1566.0,1152.4 1567.0,1150.5 1567.5,1150.2 1568.5,1151.7 1572.5,1153.4 1573.5,1151.2 1574.0,1150.5 1575.0,1150.6 1576.5,1153.1 1579.0,1153.2 1580.0,1148.9 1580.5,1148.1 1581.5,1150.4 1582.5,1146.3 1583.0,1145.0 1584.0,1150.9 1584.5,1151.8 1585.5,1151.1 1588.0,1150.8 1589.5,1147.9 1590.5,1150.1 1592.0,1152.5 1593.5,1151.7 1594.5,1151.5 1596.0,1151.6 1597.0,1151.2 1598.5,1149.4 1599.5,1151.4 1600.0,1152.0 1601.0,1152.0 1602.5,1150.9 1603.5,1151.8 1605.0,1152.2 1606.0,1149.8 1606.5,1149.4 1607.5,1150.6 1609.0,1150.5 1610.0,1152.2 1610.5,1152.3 1611.5,1151.4 1612.5,1150.1 1613.0,1149.8 1615.5,1151.2 1618.0,1151.1 1619.0,1153.1 1619.5,1153.0 1620.5,1149.7 1621.5,1148.9 1622.0,1147.8 1623.0,1142.3 1623.5,1140.4 1624.0,1139.9 1625.0,1142.1 1627.0,1149.8 1627.5,1149.2 1628.5,1146.0 1629.5,1144.0 1630.0,1145.1 1631.0,1152.0 1632.0,1149.8 1632.5,1149.7 1633.5,1153.0 1635.0,1149.5 1636.0,1152.2 1636.5,1152.6 1638.5,1151.7 1639.0,1151.9 1640.0,1153.7 1641.5,1150.7 1644.0,1151.3 1645.5,1150.8 1646.5,1150.7 1648.0,1151.4 1649.0,1152.6 1649.5,1151.8 1650.5,1148.2 1652.0,1149.0 1653.0,1148.8 1654.5,1149.9 1655.5,1148.8 1656.0,1149.3 1657.0,1151.7 1660.5,1150.2 1661.0,1150.1 1662.0,1151.0 1662.5,1151.2 1663.5,1151.2 1665.0,1150.9 1666.0,1150.1 1667.5,1151.7 1668.5,1149.4 1669.0,1149.8 1670.0,1152.7 1671.0,1148.1 1671.5,1147.3 1672.5,1149.9 1673.0,1149.9 1673.5,1149.6 1674.0,1149.5 1675.0,1151.7 1675.5,1151.4 1676.5,1148.9 1677.5,1152.4 1678.0,1152.8 1679.0,1149.2 1680.5,1153.6 1681.5,1151.9 1682.0,1151.5 1683.0,1151.0 1684.5,1153.3 1685.5,1153.9 1687.0,1151.9 1688.0,1148.6 1688.5,1149.0 1689.5,1152.6 1691.0,1150.9 1692.0,1149.0 1693.5,1151.7 1694.5,1148.9 1695.0,1149.0 1696.0,1151.2 1697.0,1151.3 1697.5,1151.1 1698.5,1150.2 1700.0,1151.7 1701.0,1149.9 1701.5,1150.0 1702.5,1151.2 1703.5,1150.5 1704.0,1150.3 1705.0,1150.7 1706.5,1153.4 1707.5,1151.5 1709.0,1149.5 1710.0,1150.5 1710.5,1150.7 1711.5,1150.0 1713.0,1151.0 1714.0,1151.2 1716.5,1151.1 1718.0,1150.3 1719.5,1151.6 1720.5,1152.3 1721.0,1151.9 1722.0,1150.1 1723.5,1150.9 1724.5,1151.0 1726.0,1152.6 1727.0,1152.4 1728.5,1150.0 1731.0,1148.9 1732.5,1149.7 1733.5,1150.6 1734.5,1151.3 1735.0,1151.5 1736.0,1151.5 1736.5,1151.2 1737.5,1149.1 1739.0,1143.2 1739.5,1143.8 1741.0,1147.8 1742.5,1150.5 1743.0,1151.0 1744.0,1150.9 1745.5,1151.8 1746.5,1151.8 1748.0,1152.0 1749.0,1150.7 1749.5,1150.6 1750.5,1152.1 1752.0,1150.3 1753.0,1151.0 1754.5,1153.4 1757.0,1149.6 1758.5,1152.9 1759.5,1152.4 1761.0,1152.5 1762.5,1151.3 1763.5,1151.4 1764.5,1153.3 1765.0,1153.8 1766.0,1150.7 1766.5,1150.7 1767.5,1153.0 1768.5,1151.1 1769.0,1150.5 1771.0,1150.4 1771.5,1150.6 1772.5,1153.0 1773.0,1153.1 1775.0,1150.9 1775.5,1150.6 1779.0,1152.1 1779.5,1151.4 1780.5,1148.9 1781.5,1151.4 1782.0,1151.9 1783.0,1150.8 1784.5,1150.2 1786.0,1151.2 1788.0,1153.0 1788.5,1153.0 1789.5,1151.3 1791.0,1151.6 1792.0,1150.2 1792.5,1151.3 1793.5,1155.9 1795.0,1151.6 1796.0,1149.3 1796.5,1149.5 1797.0,1149.9 1798.5,1151.8 1799.0,1151.3 1800.0,1148.7 1801.5,1150.7 1802.5,1151.7 1804.0,1148.9 1805.0,1150.2 1806.5,1151.1 1807.5,1151.9 1808.0,1151.7 1809.0,1149.6 1810.5,1152.4 1811.5,1151.6 1812.0,1151.7 1813.0,1152.5 1814.5,1152.3 1815.5,1151.5 1817.0,1151.6 1818.0,1151.1 1819.5,1151.6 1820.5,1150.1 1821.0,1149.8 1822.0,1150.5 1823.0,1151.7 1823.5,1151.9 1824.5,1149.3 1825.0,1149.1 1826.0,1150.6 1827.5,1149.3 1828.5,1149.0 1830.0,1152.7 1831.0,1151.4 1831.5,1151.4 1832.5,1152.2 1833.5,1152.4 1834.0,1152.1 1835.0,1150.0 1836.0,1149.0 1836.5,1149.0 1837.5,1152.9 1838.0,1152.9 1839.0,1150.5 1840.0,1149.8 1840.5,1149.9 1841.5,1151.7 1842.0,1151.7 1844.0,1150.3 1844.5,1150.2 1847.0,1151.2 1848.0,1151.1 1849.5,1151.8 1850.5,1150.8 1851.0,1150.6 1852.0,1150.6 1853.0,1151.5 1853.5,1151.7 1854.5,1151.4 1856.0,1152.2 1857.0,1150.9 1857.5,1150.7 1858.5,1150.9 1859.5,1149.9 1860.0,1150.1 1861.0,1152.6 1862.5,1149.4 1863.5,1150.9 1864.0,1150.1 1865.0,1146.1 1866.0,1150.2 1866.5,1151.5 1867.5,1151.9 1869.0,1149.1 1870.0,1150.5 1870.5,1150.3 1871.5,1148.8 1872.5,1151.8 1873.0,1152.4 1874.0,1150.6 1875.5,1149.1 1876.5,1150.0 1878.0,1152.6 1879.5,1152.8 1880.5,1152.6 1882.0,1150.1 1883.0,1150.7 1884.5,1153.0 1885.5,1150.8 1886.0,1150.1 1887.0,1150.4 1888.5,1149.8 1889.5,1149.6 1890.0,1150.2 1891.0,1152.5 1892.5,1151.7 1893.5,1151.6 1894.5,1151.6 1895.0,1151.9 1896.0,1153.6 1896.5,1153.7 1897.5,1152.8 1899.0,1150.9 1900.0,1150.6 1901.0,1150.0 1901.5,1149.9 1902.5,1151.9 1903.0,1151.8 1904.0,1150.3 1905.0,1149.4 1905.5,1149.4 1906.5,1150.5 1908.0,1151.0 1909.0,1151.8 1910.5,1152.1 1912.0,1150.0 1913.0,1149.9 1914.5,1150.4 1915.5,1149.5 1916.0,1149.6 1917.0,1150.6 1918.0,1151.1 1918.5,1151.1 1919.5,1150.5 1920.5,1149.3 1921.5,1147.0 1922.5,1143.7 1923.0,1142.7 1923.5,1142.3 1924.0,1141.0 1924.5,1141.2 1926.0,1147.8 1926.5,1148.6 1927.0,1148.6 1927.5,1147.8 1928.5,1145.1 1929.0,1144.4 1929.5,1144.6 1930.0,1145.3 1931.0,1147.9 1931.5,1148.8 1932.5,1149.3 1934.0,1150.5 1935.0,1150.8 1935.5,1150.7 1936.5,1150.0 1938.0,1150.6 1939.0,1150.5 1940.5,1149.5 1941.5,1150.5 1942.0,1150.6 1943.0,1150.2 1944.0,1149.1 1944.5,1149.0 1945.5,1150.4 1946.5,1150.6 1947.0,1150.2 1948.0,1145.7 1948.5,1145.7 1950.5,1151.0 1951.0,1151.7 1953.5,1151.7 1954.5,1151.4 1956.0,1149.5 1957.0,1150.7 1957.5,1150.9 1958.5,1150.0 1960.0,1153.3 1961.0,1150.9 1961.5,1150.7 1962.5,1151.8 1963.5,1149.8 1964.0,1149.2 1966.0,1150.1 1967.5,1151.6 1968.0,1151.8 1969.0,1151.6 1970.0,1152.4 1970.5,1151.8 1971.5,1147.3 1973.0,1152.1 1974.0,1150.3 1974.5,1150.6 1975.5,1152.9 1976.5,1153.1 1977.0,1152.9 1978.0,1151.7 1979.5,1151.9 1980.5,1149.9 1981.0,1150.6 1982.0,1154.0 1984.5,1152.2 1986.0,1150.1 1987.0,1150.8 1987.5,1150.6 1988.5,1149.6 1990.0,1150.8 1992.5,1151.4 1993.5,1152.4 1994.0,1152.4 1995.0,1151.6 1997.5,1151.1 1998.5,1152.6 1999.0,1153.1 2000.0,1150.8 2000.5,1150.8 2001.5,1152.4 2002.5,1149.6 2003.0,1148.9 2005.5,1151.4 2006.5,1150.9 2007.0,1151.7 2008.0,1154.5 2009.0,1155.2 2009.5,1154.4 2010.5,1149.7 2011.0,1149.4 2012.0,1149.8 2013.0,1150.7 2014.5,1153.0 2017.0,1151.4 2018.5,1149.4 2019.5,1149.9 2020.0,1149.5 2021.0,1147.9 2022.5,1149.6 2023.5,1151.3 2024.0,1151.6 2025.0,1151.7 2026.0,1149.9 2026.5,1149.9 2028.5,1152.5 2029.0,1152.6 2030.0,1151.3 2031.0,1150.8 2031.5,1150.7 2032.5,1151.5 2033.0,1151.7 2034.0,1151.6 2036.5,1150.4 2038.0,1150.6 2039.0,1151.0 2039.5,1150.9 2040.5,1150.4 2042.0,1152.0 2044.0,1152.2 2044.5,1152.3 2045.5,1153.1 2046.0,1153.2 2047.0,1152.8 2048.0,1152.6 2050.0,1151.2 2050.5,1151.0 2051.0,1151.0 2052.0,1153.2 2052.5,1153.5 2053.5,1153.1 2054.5,1151.0 2055.0,1150.3 2056.0,1150.0 2057.5,1151.3 2058.5,1151.4 2060.0,1152.2 2061.5,1150.4 2062.5,1148.5 2064.0,1151.4 2065.0,1152.0 2065.5,1151.8 2066.5,1151.0 2067.5,1150.9 2068.0,1151.0 2070.5,1152.5 2073.0,1149.4 2074.5,1150.4 2075.5,1150.8 2076.5,1149.6 2077.0,1149.2 2078.0,1151.4 2078.5,1151.5 2079.5,1150.1 2080.5,1151.2 2081.0,1151.5 2083.0,1150.8 2083.5,1150.8 2084.5,1152.5 2085.0,1152.2 2086.0,1150.4 2087.0,1150.3 2087.5,1150.4 2088.5,1151.2 2090.0,1151.8 2092.5,1149.9 2093.5,1151.3 2094.0,1151.7 2095.0,1151.6 2096.5,1153.2 2097.5,1152.7 2099.0,1151.2 2101.5,1149.3 2103.0,1151.0 2104.0,1151.6 2104.5,1151.2 2105.5,1149.5 2106.5,1149.5 2107.0,1149.1 2108.0,1146.9 2109.5,1144.9 2110.0,1143.5 2110.5,1143.2 2112.0,1148.8 2112.5,1149.2 2113.5,1149.5 2114.5,1150.6 2115.0,1150.5 2116.0,1150.0 2117.0,1148.6 2117.5,1148.9 2118.5,1151.0 2119.5,1151.4" fill="none" stroke="#111" stroke-width="2.1" stroke-linejoin="round" />
<polyline points="149.0,1531.3 150.0,1531.5 150.5,1531.2 151.5,1529.3 153.0,1532.0 154.0,1530.5 154.5,1530.4 155.5,1531.3 156.5,1530.4 157.0,1530.8 158.0,1534.0 159.5,1531.8 160.5,1534.1 161.0,1533.7 162.0,1530.5 163.0,1530.9 163.5,1531.4 164.5,1533.4 166.0,1531.0 168.5,1533.2 170.0,1530.8 171.0,1530.5 172.5,1531.2 173.5,1532.7 174.0,1532.7 175.0,1532.1 176.0,1533.1 176.5,1533.0 177.5,1531.2 179.0,1530.7 180.0,1529.9 180.5,1530.1 181.5,1531.0 182.5,1534.4 183.0,1534.8 184.0,1531.6 184.5,1530.9 185.5,1530.1 188.0,1531.0 189.0,1532.4 189.5,1532.6 190.5,1531.1 191.5,1530.7 192.0,1530.8 193.0,1532.6 193.5,1533.1 194.5,1533.4 195.5,1531.6 196.0,1531.0 197.0,1531.1 198.5,1528.8 199.5,1529.1 202.0,1533.0 202.5,1533.6 203.5,1534.1 205.0,1532.5 206.0,1531.0 206.5,1531.1 207.5,1532.2 208.5,1530.0 209.0,1529.6 210.0,1531.2 211.5,1529.9 214.0,1533.5 215.5,1534.7 216.5,1535.0 217.5,1534.0 218.0,1533.2 219.0,1529.7 219.5,1529.4 220.5,1530.5 221.5,1532.9 222.0,1533.6 224.5,1532.5 225.5,1530.6 226.0,1531.1 227.0,1533.9 228.0,1531.7 228.5,1531.1 229.5,1531.2 230.5,1534.2 231.0,1535.1 232.0,1531.0 232.5,1530.6 233.5,1532.1 234.5,1531.2 235.0,1531.3 236.0,1533.4 237.5,1531.1 240.0,1531.0 241.0,1532.3 241.5,1532.2 242.5,1530.2 243.5,1529.5 244.0,1529.5 245.0,1531.0 245.5,1531.2 246.5,1530.9 247.5,1531.9 248.0,1532.0 249.0,1531.1 250.5,1530.7 251.5,1531.7 253.0,1532.1 254.0,1532.7 254.5,1532.7 255.5,1531.7 257.0,1529.0 258.0,1531.0 258.5,1531.4 261.0,1531.5 262.0,1532.2 263.0,1529.1 263.5,1528.4 264.5,1534.4 265.0,1534.6 266.0,1531.0 267.0,1532.9 267.5,1532.9 268.5,1530.1 269.5,1528.6 270.0,1528.2 271.0,1529.8 272.5,1535.5 274.0,1529.4 275.0,1527.0 276.5,1531.8 277.5,1531.0 278.0,1531.1 279.0,1531.8 280.0,1531.7 280.5,1532.1 281.5,1534.2 282.0,1534.0 284.0,1532.1 284.5,1532.0 285.5,1532.5 286.5,1532.4 287.0,1532.0 288.0,1530.1 289.5,1532.9 290.5,1531.0 291.0,1531.1 292.0,1532.6 293.0,1531.9 293.5,1531.9 294.5,1532.7 296.0,1533.4 298.5,1530.8 300.0,1531.0 303.5,1530.9 305.0,1531.3 306.0,1531.1 306.5,1531.2 307.5,1532.1 309.0,1530.9 310.0,1531.5 310.5,1531.4 312.5,1529.4 313.0,1529.6 314.0,1532.4 315.0,1533.6 315.5,1533.7 316.5,1531.3 317.0,1531.2 318.0,1532.6 319.0,1532.1 319.5,1531.2 320.5,1527.6 322.0,1532.8 323.0,1529.4 323.5,1529.3 324.5,1531.4 325.5,1532.3 326.0,1532.1 327.0,1530.2 328.5,1533.5 329.5,1531.2 330.0,1531.3 331.0,1533.3 332.0,1531.7 332.5,1531.4 333.5,1532.4 334.5,1531.8 335.0,1531.7 336.0,1534.3 336.5,1534.2 337.5,1532.1 339.0,1532.9 340.0,1532.6 342.5,1531.3 343.0,1531.4 345.5,1532.9 346.5,1532.8 347.5,1532.5 349.0,1531.5 349.5,1531.6 350.5,1532.5 351.5,1530.7 352.0,1530.4 353.0,1531.4 354.0,1529.6 354.5,1529.0 355.5,1532.1 356.0,1532.4 358.0,1530.0 358.5,1529.7 359.5,1530.0 361.0,1532.8 362.0,1532.4 362.5,1532.5 363.5,1533.1 364.5,1533.2 366.0,1532.5 367.5,1532.6 368.5,1532.1 369.0,1532.3 370.0,1533.4 371.0,1530.4 371.5,1529.8 374.0,1533.0 375.0,1532.8 376.5,1531.7 377.5,1531.2 378.0,1531.4 379.0,1532.6 379.5,1532.3 381.5,1530.2 382.0,1530.7 383.0,1533.1 384.0,1531.4 384.5,1530.9 385.5,1531.4 386.0,1530.5 387.5,1526.4 388.5,1522.9 389.0,1521.8 389.5,1521.3 390.0,1522.6 391.0,1527.1 391.5,1526.8 392.0,1526.2 393.5,1530.4 394.5,1531.8 395.0,1532.0 396.0,1531.7 398.5,1531.5 399.5,1530.6 400.0,1530.4 401.0,1532.6 401.5,1533.3 402.5,1534.1 404.0,1531.5 405.0,1528.7 406.5,1533.7 407.5,1531.9 408.0,1531.7 409.0,1532.3 410.0,1533.8 410.5,1534.1 411.5,1533.4 413.0,1531.6 414.0,1532.8 414.5,1532.9 415.5,1532.4 416.5,1531.2 417.0,1530.9 418.0,1531.7 419.5,1529.2 420.5,1529.4 423.0,1533.1 423.5,1533.1 424.5,1531.3 426.0,1533.1 427.0,1532.0 427.5,1532.3 428.5,1534.0 429.5,1531.7 430.0,1531.7 431.0,1535.2 431.5,1534.5 432.5,1532.0 433.5,1531.3 434.0,1531.3 435.0,1531.8 436.0,1529.6 436.5,1529.4 437.5,1531.6 439.0,1529.7 440.0,1531.3 440.5,1531.3 441.5,1530.0 443.0,1523.3 445.0,1509.1 445.5,1507.6 446.0,1508.3 446.5,1511.8 448.0,1527.1 448.5,1528.3 449.5,1529.1 450.5,1531.2 451.0,1531.3 451.5,1531.1 452.0,1531.3 453.0,1534.9 453.5,1534.7 454.5,1531.5 455.5,1531.6 456.0,1531.4 457.0,1530.2 458.5,1532.0 459.5,1532.3 460.0,1532.2 461.0,1531.4 462.0,1532.6 462.5,1532.6 463.5,1530.4 464.0,1530.5 466.0,1532.0 466.5,1531.9 467.5,1531.1 468.5,1532.7 469.0,1533.1 470.0,1532.5 471.5,1530.7 472.5,1530.4 473.0,1530.6 474.0,1531.6 475.0,1530.8 475.5,1530.7 476.5,1531.0 477.5,1530.4 478.0,1530.3 479.0,1532.2 479.5,1532.4 480.5,1531.8 482.0,1532.1 483.0,1532.6 484.5,1528.8 485.5,1531.2 486.0,1531.5 487.0,1531.3 488.5,1532.5 489.5,1532.6 491.0,1532.4 492.0,1533.1 492.5,1532.3 493.5,1529.1 494.5,1529.9 495.0,1530.6 496.0,1533.0 497.0,1533.5 497.5,1533.4 498.5,1531.0 499.0,1531.0 500.0,1532.7 501.0,1532.7 501.5,1532.3 502.5,1530.0 503.0,1530.1 505.0,1531.8 505.5,1531.9 506.5,1531.5 508.0,1534.2 509.0,1535.3 510.0,1533.9 511.5,1531.1 512.0,1530.5 513.0,1530.0 514.0,1530.6 514.5,1531.2 515.5,1533.2 516.5,1533.8 518.0,1534.3 518.5,1533.6 520.5,1529.0 521.0,1529.1 522.0,1532.9 522.5,1532.2 523.5,1530.1 524.5,1532.3 525.0,1532.9 526.0,1533.2 527.0,1530.6 527.5,1529.9 528.5,1530.4 530.0,1532.6 531.0,1533.2 531.5,1532.8 532.5,1530.9 533.5,1530.4 534.0,1530.5 535.5,1532.4 536.0,1532.8 536.5,1533.0 537.5,1530.6 538.0,1530.2 539.0,1530.5 540.0,1532.5 540.5,1532.9 541.5,1531.9 543.0,1532.1 544.0,1531.7 544.5,1531.7 546.5,1532.7 547.0,1532.7 548.0,1532.0 549.5,1531.4 550.5,1529.7 551.0,1530.6 552.0,1534.9 553.5,1532.1 555.5,1531.6 557.0,1531.7 558.5,1532.8 560.0,1530.9 561.0,1530.1 562.5,1532.6 563.5,1531.3 564.0,1531.1 565.0,1531.1 566.0,1531.8 566.5,1531.9 567.5,1531.2 569.0,1531.3 570.0,1530.3 570.5,1530.8 571.5,1533.1 572.5,1530.5 573.0,1530.3 574.0,1532.9 575.5,1529.9 576.5,1530.4 578.0,1530.9 579.0,1532.1 579.5,1532.4 580.5,1531.7 582.0,1528.8 583.0,1529.6 584.5,1532.6 585.5,1531.6 586.0,1531.4 587.0,1531.7 589.5,1530.5 590.0,1530.7 591.0,1531.8 592.0,1531.3 592.5,1531.3 593.5,1532.0 595.0,1530.3 596.0,1528.3 596.5,1528.4 597.5,1529.6 598.5,1526.8 599.0,1524.2 599.5,1519.7 600.0,1512.2 600.5,1499.1 601.5,1464.4 602.0,1453.7 602.5,1451.4 603.0,1458.2 604.5,1490.1 605.5,1499.4 607.5,1521.8 608.0,1525.3 608.5,1527.2 609.0,1528.3 609.5,1528.7 610.5,1528.6 611.5,1530.4 612.0,1530.9 613.0,1531.1 614.0,1530.7 614.5,1530.4 615.5,1528.9 616.0,1528.8 617.0,1529.5 618.0,1531.5 618.5,1532.0 621.0,1529.2 622.0,1530.7 622.5,1531.1 623.5,1531.4 625.0,1532.1 627.5,1531.7 630.0,1529.3 631.0,1530.3 631.5,1530.4 632.5,1529.4 633.0,1529.4 634.0,1529.8 635.0,1532.1 635.5,1531.8 636.5,1529.5 637.5,1529.7 638.0,1530.2 639.0,1532.1 640.5,1530.5 641.5,1531.0 642.0,1530.6 643.0,1529.1 644.5,1531.7 645.5,1532.4 647.0,1529.8 648.0,1531.7 648.5,1532.0 649.5,1531.9 650.5,1532.2 651.0,1532.2 652.0,1531.4 653.5,1532.3 654.5,1530.3 655.0,1530.2 656.0,1531.1 657.5,1530.7 658.5,1530.2 660.0,1530.1 661.0,1528.5 661.5,1529.0 663.5,1533.7 664.0,1533.8 665.0,1531.2 665.5,1531.3 666.5,1532.2 667.5,1531.6 668.0,1531.7 669.0,1532.6 670.0,1530.3 670.5,1529.9 671.5,1531.2 673.0,1531.1 675.5,1531.6 676.5,1532.0 677.0,1531.9 678.0,1531.3 679.5,1531.6 680.5,1530.8 682.0,1530.7 683.0,1530.2 683.5,1530.4 684.5,1531.9 686.0,1533.2 687.0,1532.3 688.5,1529.8 689.5,1530.0 690.0,1530.3 691.0,1531.9 691.5,1531.8 692.5,1530.7 693.5,1528.0 694.0,1527.9 695.0,1529.4 696.0,1529.6 696.5,1528.9 697.5,1524.7 698.5,1517.5 699.5,1499.2 701.0,1459.8 701.5,1456.6 702.0,1461.2 703.0,1477.5 705.5,1505.9 706.0,1509.1 706.5,1510.1 707.0,1509.1 707.5,1504.6 708.0,1494.0 708.5,1473.1 709.0,1438.5 710.5,1263.6 711.0,1221.3 711.5,1217.0 713.0,1320.9 714.5,1378.3 716.0,1468.3 716.5,1487.8 717.5,1509.1 718.0,1514.5 718.5,1517.9 719.5,1522.3 721.0,1526.8 722.0,1528.2 722.5,1528.4 723.5,1527.9 725.0,1529.0 726.0,1529.1 726.5,1529.4 727.5,1530.4 728.5,1532.0 729.0,1531.7 730.0,1527.9 731.5,1532.8 732.5,1530.6 733.0,1530.2 734.0,1530.3 735.0,1531.1 735.5,1531.3 736.5,1530.9 738.0,1531.5 739.0,1531.5 740.5,1531.9 741.5,1526.5 742.0,1525.9 743.0,1531.3 743.5,1531.0 744.5,1529.3 747.0,1532.1 748.0,1531.0 748.5,1530.8 749.5,1531.5 751.0,1531.6 753.5,1529.9 754.5,1531.4 755.0,1531.8 756.0,1531.6 757.0,1533.2 757.5,1533.6 758.5,1530.0 759.0,1530.0 760.0,1532.6 761.0,1531.3 761.5,1530.9 762.5,1531.0 764.0,1533.2 765.0,1531.6 765.5,1531.5 766.5,1532.3 768.0,1531.4 769.0,1530.5 770.5,1531.3 771.5,1532.3 772.0,1532.2 773.0,1531.2 774.0,1533.0 774.5,1533.4 775.5,1532.1 776.5,1530.2 777.0,1529.7 778.0,1533.0 778.5,1533.2 779.5,1531.9 782.0,1533.2 783.5,1530.5 784.5,1531.6 785.0,1531.6 787.0,1530.9 789.5,1530.8 790.0,1530.6 792.0,1525.8 793.0,1521.9 793.5,1520.9 794.0,1521.7 795.0,1526.8 795.5,1527.7 796.5,1527.5 797.5,1530.5 798.0,1531.2 799.0,1531.6 800.0,1531.7 800.5,1532.1 801.5,1534.1 803.0,1531.7 804.0,1532.8 804.5,1532.6 805.5,1531.2 806.5,1532.0 807.0,1532.1 808.0,1531.6 809.5,1531.2 810.5,1531.8 812.0,1532.0 813.0,1530.6 813.5,1530.6 814.5,1532.1 816.0,1530.6 817.0,1530.3 817.5,1528.8 818.5,1523.1 820.5,1516.7 821.0,1517.1 822.5,1527.3 823.0,1527.9 823.5,1527.5 824.5,1525.8 825.5,1523.2 826.0,1522.7 826.5,1523.3 827.5,1525.5 828.5,1529.1 829.0,1530.2 830.0,1529.8 830.5,1530.0 831.5,1531.0 833.0,1531.9 834.0,1532.8 835.0,1533.0 835.5,1532.9 836.5,1531.5 838.0,1530.4 840.5,1533.2 842.0,1530.7 843.0,1532.7 843.5,1532.7 844.5,1531.4 845.5,1529.2 846.0,1529.0 847.0,1531.4 848.5,1533.6 849.5,1532.6 850.0,1532.5 851.0,1532.8 852.0,1532.2 852.5,1531.6 853.5,1529.8 854.0,1529.5 855.0,1529.3 857.5,1531.1 858.5,1532.1 859.0,1532.2 860.0,1530.8 861.5,1532.5 862.5,1533.1 863.0,1532.4 864.0,1529.7 865.0,1530.2 865.5,1530.7 866.5,1532.5 867.0,1532.3 868.0,1531.2 869.0,1529.3 869.5,1530.3 870.5,1534.9 872.0,1532.3 873.0,1532.0 874.0,1528.2 874.5,1526.9 875.5,1531.1 876.0,1531.5 877.0,1530.3 878.0,1531.7 878.5,1532.1 881.0,1531.7 882.0,1532.0 882.5,1531.8 883.5,1530.9 884.5,1531.6 885.0,1531.3 886.0,1529.1 887.5,1532.3 888.5,1531.5 889.0,1532.1 890.0,1534.4 892.5,1529.2 894.0,1533.1 895.0,1531.2 895.5,1530.7 896.5,1530.3 899.0,1532.9 900.0,1533.5 900.5,1533.5 901.5,1531.5 902.0,1531.3 903.0,1532.0 904.0,1531.9 905.5,1530.9 909.5,1531.5 910.5,1532.5 911.0,1532.2 912.0,1529.7 912.5,1530.3 913.5,1532.1 914.5,1532.0 916.0,1533.1 917.0,1531.6 917.5,1531.1 918.5,1531.1 920.0,1531.6 921.5,1530.9 925.0,1530.8 926.5,1530.4 927.5,1530.7 930.0,1530.4 930.5,1530.2 931.5,1529.3 932.5,1529.5 933.0,1528.8 934.5,1522.0 935.0,1521.1 936.0,1522.5 936.5,1523.6 938.0,1530.6 938.5,1531.1 939.5,1530.9 942.0,1531.5 943.5,1531.4 944.5,1532.0 946.0,1530.6 947.0,1530.8 948.5,1531.7 950.0,1531.4 951.0,1532.1 952.0,1532.4 952.5,1532.4 953.5,1530.8 954.0,1531.0 955.0,1532.6 956.5,1531.3 958.5,1531.2 959.0,1531.3 960.0,1532.5 960.5,1532.5 961.5,1531.3 963.0,1530.6 964.0,1530.5 965.5,1532.2 968.0,1528.8 969.0,1531.5 969.5,1532.3 970.5,1532.0 973.0,1532.6 974.5,1532.1 976.0,1531.9 977.5,1531.4 978.5,1530.6 979.5,1529.6 980.0,1529.4 981.0,1529.5 982.5,1532.0 983.5,1532.4 986.0,1530.9 986.5,1531.1 987.5,1532.3 988.5,1531.7 989.0,1531.7 990.0,1532.3 992.5,1530.5 993.0,1530.4 994.0,1530.5 996.5,1533.2 997.5,1533.4 998.0,1533.3 999.0,1531.7 999.5,1531.5 1000.5,1532.0 1001.5,1531.4 1002.0,1531.3 1005.5,1532.4 1006.0,1532.0 1007.0,1530.4 1008.0,1532.7 1008.5,1533.1 1009.5,1531.6 1010.5,1530.8 1011.0,1530.8 1012.0,1533.4 1012.5,1533.2 1013.5,1530.6 1014.5,1531.2 1015.0,1531.3 1016.0,1530.7 1017.0,1532.0 1017.5,1532.3 1018.5,1529.1 1019.0,1529.1 1020.0,1531.1 1021.5,1526.7 1022.5,1525.0 1023.0,1523.6 1023.5,1523.0 1024.0,1523.9 1025.5,1528.3 1026.0,1529.1 1026.5,1529.4 1028.0,1532.5 1029.0,1533.5 1030.5,1531.6 1031.5,1531.2 1032.0,1531.5 1033.0,1533.0 1034.0,1531.4 1034.5,1530.9 1035.5,1531.2 1037.0,1533.4 1038.0,1532.0 1038.5,1531.9 1039.5,1532.7 1042.0,1530.5 1043.0,1530.2 1043.5,1530.2 1045.0,1531.6 1047.5,1532.5 1048.5,1532.2 1050.0,1530.3 1051.0,1531.8 1051.5,1531.8 1052.5,1530.9 1054.0,1532.9 1055.0,1533.2 1056.5,1530.9 1057.5,1527.8 1058.0,1528.4 1059.0,1532.5 1060.0,1531.6 1060.5,1531.8 1061.5,1534.0 1062.0,1533.8 1062.5,1533.1 1064.0,1530.7 1064.5,1530.6 1066.5,1532.1 1067.0,1532.3 1068.5,1531.9 1069.5,1531.3 1070.5,1529.9 1072.0,1523.6 1072.5,1522.1 1073.0,1521.5 1073.5,1522.4 1074.5,1527.2 1075.0,1528.3 1075.5,1528.7 1076.5,1528.6 1077.0,1527.9 1077.5,1526.3 1078.5,1520.2 1079.5,1511.6 1080.0,1510.8 1080.5,1513.1 1082.0,1525.6 1082.5,1528.4 1083.0,1529.3 1085.0,1530.4 1087.5,1533.3 1089.0,1530.3 1089.5,1529.8 1090.0,1528.9 1090.5,1526.8 1091.5,1519.7 1092.0,1518.1 1092.5,1517.5 1093.0,1518.4 1093.5,1520.1 1095.0,1527.2 1096.5,1531.4 1097.0,1531.7 1098.0,1530.9 1100.5,1530.2 1102.0,1531.2 1103.0,1531.2 1104.5,1531.7 1105.5,1531.0 1106.0,1531.0 1107.0,1531.7 1107.5,1531.8 1111.0,1531.9 1112.5,1531.5 1114.5,1529.9 1115.0,1529.8 1116.0,1531.7 1116.5,1531.6 1117.5,1530.2 1118.5,1531.5 1119.0,1531.8 1120.0,1531.5 1122.5,1531.6 1124.0,1532.1 1125.0,1531.0 1125.5,1530.7 1126.5,1531.0 1128.0,1532.6 1129.0,1532.4 1130.5,1532.6 1132.0,1531.3 1133.0,1531.5 1134.5,1533.3 1135.5,1532.3 1136.0,1532.0 1137.0,1531.8 1138.0,1532.4 1138.5,1532.3 1139.5,1530.9 1140.5,1530.5 1141.0,1530.5 1142.0,1531.7 1142.5,1531.9 1143.5,1531.5 1144.5,1532.7 1145.0,1532.9 1146.0,1532.0 1147.5,1532.3 1148.5,1531.0 1149.0,1531.0 1150.0,1532.0 1151.5,1531.5 1152.5,1531.9 1153.5,1531.8 1156.0,1530.8 1157.0,1529.6 1157.5,1528.6 1159.0,1523.2 1159.5,1523.5 1160.0,1524.7 1161.5,1530.6 1162.0,1531.7 1163.0,1532.5 1164.0,1531.8 1164.5,1531.7 1165.5,1532.3 1167.0,1529.7 1168.0,1531.6 1168.5,1531.8 1169.5,1531.4 1170.5,1533.1 1171.0,1533.4 1172.0,1531.9 1173.5,1533.2 1174.5,1531.7 1175.0,1531.9 1176.0,1533.8 1177.5,1531.0 1178.5,1530.5 1180.0,1531.2 1181.0,1532.4 1181.5,1532.1 1182.5,1530.1 1184.0,1531.8 1185.0,1532.6 1186.5,1530.9 1187.5,1531.9 1188.0,1532.1 1189.0,1531.9 1190.0,1532.1 1190.5,1531.7 1191.5,1530.0 1193.0,1532.9 1195.5,1531.1 1198.0,1531.5 1199.5,1532.1 1200.5,1530.8 1201.0,1530.5 1203.0,1530.4 1203.5,1530.7 1204.5,1532.3 1206.0,1530.8 1207.0,1531.6 1207.5,1531.5 1208.5,1530.6 1210.0,1531.6 1211.0,1532.1 1212.5,1534.1 1214.0,1532.4 1216.0,1531.0 1216.5,1531.2 1217.5,1533.6 1219.0,1530.7 1221.5,1530.1 1222.5,1532.4 1223.0,1532.9 1224.0,1531.9 1225.5,1529.8 1226.5,1530.1 1227.0,1530.5 1228.0,1531.7 1229.0,1533.6 1229.5,1534.0 1232.0,1531.9 1233.0,1532.3 1233.5,1532.2 1235.5,1531.4 1236.0,1531.5 1237.0,1532.8 1237.5,1532.7 1238.5,1532.1 1239.5,1531.9 1241.0,1529.9 1242.5,1530.8 1243.5,1531.0 1246.0,1531.9 1249.0,1531.6 1250.0,1531.9 1251.5,1532.0 1252.5,1532.4 1253.0,1531.9 1254.0,1530.0 1255.5,1532.7 1256.5,1533.3 1258.0,1532.6 1259.5,1531.1 1260.5,1530.8 1263.0,1532.5 1263.5,1532.4 1264.5,1531.7 1265.5,1530.1 1267.0,1528.7 1268.5,1532.1 1269.5,1533.6 1271.0,1530.3 1273.5,1531.6 1276.0,1532.4 1277.5,1530.3 1278.5,1531.5 1279.0,1531.5 1280.0,1531.0 1281.0,1532.0 1281.5,1532.3 1284.0,1531.6 1285.0,1530.7 1285.5,1530.5 1289.0,1531.1 1291.5,1530.5 1293.0,1530.7 1294.0,1530.3 1294.5,1530.5 1295.5,1532.3 1296.0,1532.0 1298.0,1529.9 1298.5,1530.1 1299.5,1531.7 1300.5,1530.5 1301.0,1530.4 1302.0,1531.7 1303.5,1531.4 1304.5,1532.8 1305.0,1532.8 1307.0,1531.1 1307.5,1531.1 1308.5,1532.2 1310.0,1531.7 1311.0,1532.0 1311.5,1531.4 1312.5,1529.1 1313.5,1530.7 1314.0,1531.1 1315.0,1531.1 1316.5,1531.7 1317.5,1530.7 1318.0,1530.8 1319.0,1531.8 1321.5,1530.7 1323.0,1531.0 1324.0,1531.8 1324.5,1531.8 1325.5,1531.2 1330.5,1531.5 1332.0,1531.2 1333.0,1530.2 1333.5,1530.0 1334.5,1530.8 1336.0,1531.1 1337.0,1531.9 1337.5,1531.5 1338.5,1529.4 1339.5,1530.4 1340.0,1530.0 1340.5,1528.2 1341.5,1522.5 1342.5,1510.7 1343.5,1491.1 1344.0,1487.9 1344.5,1491.4 1345.5,1503.4 1346.0,1506.2 1346.5,1506.1 1347.5,1501.3 1348.0,1500.7 1348.5,1503.6 1350.0,1521.1 1350.5,1524.8 1351.0,1526.9 1352.5,1529.9 1353.0,1530.3 1354.0,1529.9 1355.5,1532.8 1356.5,1530.9 1357.0,1531.1 1358.0,1532.8 1359.0,1532.8 1359.5,1532.4 1360.5,1530.7 1362.0,1533.4 1364.5,1532.6 1365.5,1531.9 1366.0,1531.9 1367.0,1532.9 1368.5,1531.3 1369.5,1531.2 1371.0,1530.8 1372.5,1531.6 1373.5,1531.8 1376.0,1531.1 1376.5,1531.3 1377.5,1532.1 1380.0,1531.0 1382.5,1530.5 1384.0,1531.2 1385.5,1532.4 1386.5,1532.3 1388.0,1531.0 1389.0,1531.9 1389.5,1531.7 1390.5,1530.8 1391.5,1531.9 1392.0,1531.9 1393.0,1530.3 1394.5,1532.3 1395.5,1531.5 1398.0,1531.7 1398.5,1531.5 1399.5,1530.8 1401.0,1531.6 1402.0,1531.6 1403.5,1532.2 1404.5,1531.8 1405.0,1531.8 1406.0,1532.6 1407.5,1531.9 1408.5,1530.8 1409.0,1530.7 1410.0,1530.8 1411.5,1530.6 1414.0,1531.6 1415.0,1531.0 1415.5,1531.0 1416.5,1531.2 1417.5,1532.1 1418.0,1532.2 1419.0,1531.2 1421.5,1530.6 1422.0,1531.3 1423.0,1533.9 1424.0,1531.8 1424.5,1531.3 1425.5,1531.6 1427.0,1533.2 1428.0,1532.6 1429.5,1531.1 1431.0,1530.9 1432.0,1531.2 1432.5,1531.2 1436.0,1530.0 1437.0,1531.2 1437.5,1531.3 1438.5,1530.1 1440.0,1532.6 1441.0,1531.4 1441.5,1531.2 1442.5,1531.3 1443.5,1532.3 1444.0,1532.2 1445.0,1530.4 1446.5,1532.1 1447.5,1531.1 1448.0,1530.9 1449.0,1530.7 1450.5,1531.8 1451.5,1531.7 1453.0,1530.8 1455.5,1532.8 1456.5,1531.2 1457.0,1531.0 1458.0,1532.0 1459.5,1531.2 1462.0,1532.0 1463.0,1531.5 1463.5,1531.7 1464.5,1533.1 1465.0,1532.9 1466.0,1532.2 1467.0,1530.7 1467.5,1530.9 1468.5,1532.6 1471.0,1531.4 1472.0,1531.2 1472.5,1531.2 1473.5,1532.5 1474.0,1532.5 1475.0,1531.5 1476.5,1531.5 1477.5,1531.2 1481.5,1531.5 1482.5,1531.4 1483.0,1531.2 1484.0,1530.4 1485.5,1531.1 1488.0,1531.3 1489.0,1533.0 1489.5,1533.2 1490.5,1531.7 1492.0,1532.1 1493.0,1531.8 1494.5,1529.8 1495.5,1532.5 1496.0,1533.2 1497.0,1532.8 1498.5,1531.7 1499.5,1531.6 1501.0,1530.7 1502.0,1531.5 1502.5,1531.6 1503.5,1530.9 1505.0,1530.3 1506.0,1531.5 1507.5,1532.2 1509.0,1531.4 1510.0,1531.4 1511.0,1531.2 1511.5,1531.4 1512.5,1534.3 1513.0,1534.2 1514.0,1531.9 1515.0,1531.4 1518.0,1531.7 1519.0,1532.3 1519.5,1532.1 1520.5,1531.2 1521.5,1531.0 1522.0,1531.0 1523.0,1531.7 1523.5,1531.7 1524.5,1531.4 1525.5,1530.6 1526.0,1530.7 1527.0,1531.5 1529.5,1531.3 1531.0,1531.7 1532.0,1531.7 1533.5,1532.8 1535.0,1532.1 1536.0,1532.2 1537.5,1531.3 1538.5,1531.5 1540.0,1531.1 1541.5,1531.1 1542.5,1531.4 1544.0,1533.5 1545.0,1533.6 1546.5,1531.9 1549.0,1532.2 1550.5,1531.5 1551.5,1531.5 1553.0,1532.0 1554.0,1532.6 1554.5,1532.6 1556.5,1530.7 1557.0,1530.6 1558.0,1533.0 1558.5,1533.1 1559.5,1531.7 1561.0,1531.0 1562.0,1531.0 1563.5,1528.5 1564.5,1530.6 1565.0,1531.1 1567.5,1531.9 1570.0,1530.9 1573.5,1531.9 1575.0,1531.8 1576.5,1532.0 1577.5,1530.5 1578.0,1530.5 1579.0,1531.7 1580.5,1530.7 1581.5,1530.9 1583.0,1531.6 1584.0,1530.3 1584.5,1530.2 1585.5,1530.7 1586.5,1530.1 1587.0,1530.2 1588.0,1531.8 1590.5,1532.3 1593.0,1532.0 1594.5,1530.9 1596.0,1531.4 1597.0,1531.4 1598.5,1533.0 1600.0,1530.9 1601.0,1530.7 1602.5,1531.0 1603.5,1532.1 1604.0,1532.0 1605.0,1531.1 1606.0,1531.9 1606.5,1532.0 1607.5,1531.3 1609.0,1532.4 1610.0,1532.9 1610.5,1532.9 1611.5,1532.6 1614.0,1531.3 1615.0,1531.0 1615.5,1531.0 1616.5,1532.3 1617.0,1532.1 1618.0,1530.5 1619.5,1531.1 1620.5,1532.1 1621.0,1532.1 1622.0,1531.8 1623.0,1530.4 1624.5,1526.1 1625.0,1525.0 1625.5,1524.6 1626.0,1525.1 1628.0,1530.0 1629.0,1531.1 1631.0,1532.1 1632.0,1532.1 1632.5,1532.0 1633.5,1531.2 1635.0,1532.1 1636.0,1532.1 1637.5,1533.6 1639.0,1531.5 1640.0,1531.3 1641.5,1532.4 1642.5,1532.6 1643.0,1532.4 1644.0,1531.4 1646.5,1532.3 1649.0,1532.8 1650.5,1531.6 1651.5,1532.3 1652.0,1532.2 1653.0,1530.9 1654.5,1530.2 1655.5,1531.1 1657.0,1531.8 1658.0,1530.9 1658.5,1530.7 1659.5,1531.4 1660.0,1531.6 1663.5,1531.8 1666.0,1533.1 1667.0,1531.8 1667.5,1531.5 1668.5,1534.1 1669.0,1534.1 1670.0,1532.3 1671.0,1531.4 1671.5,1531.4 1672.5,1532.4 1674.0,1532.0 1675.0,1531.5 1676.5,1531.6 1677.5,1531.2 1678.0,1531.2 1679.0,1532.0 1680.5,1531.8 1681.5,1532.7 1682.0,1532.2 1683.0,1529.9 1684.5,1530.9 1687.0,1531.9 1688.0,1531.4 1689.5,1531.1 1690.5,1531.7 1691.0,1531.8 1692.0,1531.4 1694.5,1532.1 1695.0,1532.0 1697.0,1530.8 1697.5,1530.6 1699.5,1531.7 1701.0,1532.8 1701.5,1532.5 1702.5,1531.1 1703.5,1533.3 1704.0,1533.6 1705.0,1531.8 1705.5,1531.7 1707.5,1532.1 1709.0,1531.4 1710.0,1532.1 1710.5,1532.2 1712.0,1531.7 1713.0,1531.8 1714.0,1532.2 1714.5,1531.9 1715.5,1530.6 1717.0,1530.6 1718.0,1530.8 1719.5,1532.1 1724.5,1530.5 1726.0,1531.8 1727.5,1531.6 1730.0,1532.1 1731.0,1531.8 1732.5,1532.4 1733.5,1531.5 1734.0,1531.6 1735.0,1532.6 1737.5,1531.3 1738.5,1531.6 1739.0,1531.9 1740.0,1533.9 1740.5,1533.5 1741.5,1530.8 1745.5,1531.7 1746.5,1531.7 1748.0,1532.8 1749.0,1531.8 1749.5,1531.6 1750.5,1532.0 1753.0,1531.0 1754.5,1531.5 1756.0,1531.5 1757.5,1532.1 1758.5,1532.3 1759.5,1531.5 1760.0,1531.5 1761.0,1532.3 1762.0,1531.3 1762.5,1531.2 1763.5,1532.6 1765.0,1530.7 1767.5,1531.7 1770.0,1530.9 1771.5,1531.5 1772.5,1531.1 1773.0,1531.3 1774.0,1532.2 1775.0,1531.0 1775.5,1530.9 1776.5,1532.1 1777.0,1532.2 1779.0,1531.9 1780.5,1532.2 1782.0,1531.5 1783.0,1531.5 1784.5,1532.2 1785.5,1531.2 1786.0,1531.1 1787.0,1531.4 1790.5,1531.4 1791.0,1531.3 1792.0,1530.3 1792.5,1530.4 1793.5,1531.6 1794.5,1533.5 1795.0,1533.8 1796.0,1532.5 1797.5,1531.6 1798.5,1531.3 1800.0,1531.4 1801.5,1531.1 1802.5,1531.3 1804.0,1531.3 1805.0,1532.1 1805.5,1532.1 1806.5,1531.8 1808.0,1531.8 1809.0,1531.4 1810.0,1531.4 1810.5,1531.6 1811.5,1532.7 1812.0,1532.5 1813.0,1531.1 1814.5,1531.9 1815.5,1532.1 1817.0,1531.3 1818.0,1531.5 1819.5,1530.9 1820.5,1532.5 1821.0,1532.8 1822.0,1531.9 1823.5,1532.2 1824.5,1531.6 1826.0,1531.1 1827.5,1531.7 1828.5,1532.3 1830.0,1532.5 1832.5,1531.6 1835.0,1532.2 1836.5,1531.1 1838.0,1532.2 1839.0,1532.5 1840.0,1531.9 1840.5,1531.9 1841.5,1532.6 1843.0,1531.8 1844.0,1531.7 1845.5,1532.4 1847.0,1531.4 1848.0,1531.4 1849.5,1531.1 1852.0,1532.0 1853.5,1531.4 1854.5,1530.6 1856.0,1531.9 1857.0,1532.0 1858.5,1531.1 1860.0,1531.4 1861.0,1531.1 1862.5,1531.2 1863.5,1531.7 1865.0,1531.7 1867.5,1530.1 1870.0,1532.2 1870.5,1532.4 1871.5,1532.3 1873.0,1531.4 1874.0,1531.0 1875.5,1532.0 1876.5,1532.0 1879.0,1532.6 1879.5,1532.5 1880.5,1531.9 1883.0,1531.2 1884.5,1530.3 1887.0,1532.1 1888.5,1531.6 1889.5,1532.3 1890.0,1532.2 1891.0,1531.4 1892.5,1531.7 1893.5,1531.2 1895.0,1532.0 1896.0,1531.3 1896.5,1531.2 1897.5,1531.3 1898.5,1531.8 1899.0,1531.7 1900.0,1530.7 1900.5,1530.7 1901.5,1530.9 1902.5,1531.6 1904.0,1531.6 1905.0,1532.4 1905.5,1532.5 1906.5,1531.2 1907.0,1531.2 1908.0,1531.5 1910.5,1531.7 1911.5,1532.4 1912.0,1532.4 1914.0,1531.0 1914.5,1530.9 1915.5,1532.2 1916.0,1532.3 1918.5,1530.9 1923.5,1532.0 1925.0,1531.3 1926.0,1530.3 1928.5,1531.4 1931.0,1531.8 1931.5,1531.6 1932.5,1530.6 1933.0,1530.7 1936.5,1532.5 1937.5,1532.2 1938.0,1531.8 1939.0,1530.5 1939.5,1530.4 1940.5,1530.7 1941.5,1531.7 1942.0,1531.8 1944.0,1531.6 1944.5,1531.8 1945.5,1532.6 1947.0,1531.1 1948.0,1532.1 1949.5,1532.9 1951.0,1531.2 1952.0,1530.6 1953.5,1531.1 1954.5,1532.2 1955.0,1532.2 1956.0,1531.6 1957.5,1532.2 1960.0,1531.4 1961.0,1531.9 1961.5,1532.0 1963.5,1531.6 1966.5,1531.3 1967.5,1531.7 1969.0,1531.5 1970.0,1532.0 1970.5,1532.1 1973.0,1530.7 1974.0,1530.7 1976.5,1532.7 1977.0,1532.7 1979.0,1530.8 1979.5,1530.6 1980.5,1531.8 1981.0,1531.9 1982.0,1531.3 1983.5,1531.9 1984.5,1531.6 1986.0,1531.9 1990.0,1531.1 1992.5,1532.1 1993.5,1531.4 1994.0,1531.4 1995.0,1531.7 1996.0,1531.3 1996.5,1531.4 1997.5,1532.0 1999.0,1531.3 2000.0,1531.2 2001.5,1532.1 2004.0,1531.6 2006.5,1531.6 2009.0,1531.9 2009.5,1531.7 2010.5,1530.6 2012.0,1531.8 2013.0,1530.8 2013.5,1530.9 2014.5,1531.6 2015.5,1531.3 2016.0,1531.3 2017.0,1531.9 2018.5,1531.5 2019.5,1532.5 2020.0,1532.5 2021.0,1531.7 2022.0,1531.7 2022.5,1531.6 2023.5,1530.6 2025.0,1531.0 2026.0,1531.9 2026.5,1531.9 2027.5,1531.3 2028.5,1532.2 2029.0,1532.3 2030.0,1531.3 2031.5,1531.8 2032.5,1531.3 2033.0,1531.3 2034.0,1531.8 2037.5,1532.2 2038.0,1532.2 2039.0,1531.2 2039.5,1531.2 2040.5,1531.9 2042.0,1531.7 2043.0,1531.9 2044.5,1531.1 2045.5,1531.8 2046.0,1531.8 2047.0,1531.5 2049.5,1531.4 2051.0,1532.0 2052.5,1531.7 2054.5,1531.6 2056.0,1532.1 2057.0,1532.2 2057.5,1532.1 2060.0,1530.9 2061.5,1531.0 2062.5,1531.3 2064.0,1531.5 2065.0,1531.9 2065.5,1531.6 2066.5,1530.4 2068.0,1532.0 2069.0,1532.1 2070.5,1531.4 2071.5,1532.1 2072.0,1532.0 2073.0,1531.3 2074.5,1531.5 2075.5,1531.4 2077.0,1532.3 2079.5,1532.1 2080.5,1531.3 2081.0,1531.2 2082.0,1531.6 2083.5,1531.1 2085.0,1531.7 2087.0,1532.2 2087.5,1532.1 2088.5,1531.6 2090.0,1533.2 2091.0,1531.8 2091.5,1531.4 2092.5,1531.1 2093.5,1532.1 2094.0,1532.3 2095.0,1531.8 2096.5,1532.2 2097.5,1532.0 2100.0,1530.6 2100.5,1530.7 2101.5,1531.8 2102.0,1531.9 2104.0,1531.9 2105.5,1531.6 2106.5,1531.9 2107.0,1531.9 2108.0,1531.2 2109.5,1531.5 2110.5,1531.3 2112.0,1532.0 2113.5,1531.8 2114.5,1531.9 2115.5,1531.6 2116.0,1531.2 2117.0,1528.8 2117.5,1529.0 2118.5,1531.2 2119.5,1532.5" fill="none" stroke="#111" stroke-width="2.1" stroke-linejoin="round" />
</g>
<g id="markers" fill="none">
<path d="M433.9 322.8H458.9" stroke="#ff2a2a" stroke-width="2.3" opacity="0.78"/><path d="M446.4 308.8V336.8" stroke="#ff2a2a" stroke-width="2.3" opacity="0.78"/>
<path d="M650.5 203.5H675.5" stroke="#ff2a2a" stroke-width="2.3" opacity="0.78"/><path d="M663.0 189.5V217.5" stroke="#ff2a2a" stroke-width="2.3" opacity="0.78"/>
<path d="M691.5 77.5H716.5" stroke="#ff2a2a" stroke-width="2.3" opacity="0.78"/><path d="M704.0 63.5V91.5" stroke="#ff2a2a" stroke-width="2.3" opacity="0.78"/>
<path d="M826.9 237.0H851.9" stroke="#ff2a2a" stroke-width="2.3" opacity="0.78"/><path d="M839.4 223.0V251.0" stroke="#ff2a2a" stroke-width="2.3" opacity="0.78"/>
<path d="M1001.7 285.3H1026.7" stroke="#ff2a2a" stroke-width="2.3" opacity="0.78"/><path d="M1014.2 271.3V299.3" stroke="#ff2a2a" stroke-width="2.3" opacity="0.78"/>
<path d="M1080.7 329.0H1105.7" stroke="#ff2a2a" stroke-width="2.3" opacity="0.78"/><path d="M1093.2 315.0V343.0" stroke="#ff2a2a" stroke-width="2.3" opacity="0.78"/>
<path d="M1271.8 363.8H1296.8" stroke="#ff2a2a" stroke-width="2.3" opacity="0.78"/><path d="M1284.3 349.8V377.8" stroke="#ff2a2a" stroke-width="2.3" opacity="0.78"/>
<path d="M1426.7 366.0H1451.7" stroke="#ff2a2a" stroke-width="2.3" opacity="0.78"/><path d="M1439.2 352.0V380.0" stroke="#ff2a2a" stroke-width="2.3" opacity="0.78"/>
<path d="M380.8 686.0H405.8" stroke="#ff2a2a" stroke-width="2.3" opacity="0.78"/><path d="M393.3 672.0V700.0" stroke="#ff2a2a" stroke-width="2.3" opacity="0.78"/>
<path d="M595.8 462.6H620.8" stroke="#ff2a2a" stroke-width="2.3" opacity="0.78"/><path d="M608.3 448.6V476.6" stroke="#ff2a2a" stroke-width="2.3" opacity="0.78"/>
<path d="M824.7 457.5H849.7" stroke="#ff2a2a" stroke-width="2.3" opacity="0.78"/><path d="M837.2 443.5V471.5" stroke="#ff2a2a" stroke-width="2.3" opacity="0.78"/>
<path d="M931.4 704.7H956.4" stroke="#ff2a2a" stroke-width="2.3" opacity="0.78"/><path d="M943.9 690.7V718.7" stroke="#ff2a2a" stroke-width="2.3" opacity="0.78"/>
<path d="M1078.1 727.0H1103.1" stroke="#ff2a2a" stroke-width="2.3" opacity="0.78"/><path d="M1090.6 713.0V741.0" stroke="#ff2a2a" stroke-width="2.3" opacity="0.78"/>
<path d="M1345.0 596.0H1370.0" stroke="#ff2a2a" stroke-width="2.3" opacity="0.78"/><path d="M1357.5 582.0V610.0" stroke="#ff2a2a" stroke-width="2.3" opacity="0.78"/>
<path d="M1755.0 737.7H1780.0" stroke="#ff2a2a" stroke-width="2.3" opacity="0.78"/><path d="M1767.5 723.7V751.7" stroke="#ff2a2a" stroke-width="2.3" opacity="0.78"/>
<path d="M1929.3 743.6H1954.3" stroke="#ff2a2a" stroke-width="2.3" opacity="0.78"/><path d="M1941.8 729.6V757.6" stroke="#ff2a2a" stroke-width="2.3" opacity="0.78"/>
<path d="M2106 733.6H2119.5M2118.7 720V748" stroke="#ff2a2a" stroke-width="2.3"/>
<path d="M253.8 1145.8H280.8" stroke="#ff2a2a" stroke-width="2.3" opacity="0.23"/><path d="M267.3 1130.8V1160.8" stroke="#ff2a2a" stroke-width="2.3" opacity="0.62"/>
<path d="M376.3 1111.0H403.3" stroke="#ff2a2a" stroke-width="2.3" opacity="0.78"/><path d="M389.8 1096.0V1126.0" stroke="#ff2a2a" stroke-width="2.3" opacity="0.78"/>
<path d="M588.3 864.0H615.3" stroke="#ff2a2a" stroke-width="2.3" opacity="0.00"/><path d="M601.8 849.0V879.0" stroke="#ff2a2a" stroke-width="2.3" opacity="0.23"/>
<path d="M815.7 1031.9H842.7" stroke="#ff2a2a" stroke-width="2.3" opacity="0.78"/><path d="M829.2 1016.9V1046.9" stroke="#ff2a2a" stroke-width="2.3" opacity="0.78"/>
<path d="M921.6 1127.6H948.6" stroke="#ff2a2a" stroke-width="2.3" opacity="0.78"/><path d="M935.1 1112.6V1142.6" stroke="#ff2a2a" stroke-width="2.3" opacity="0.78"/>
<path d="M1077.6 1119.5H1104.6" stroke="#ff2a2a" stroke-width="2.3" opacity="0.39"/><path d="M1091.1 1104.5V1134.5" stroke="#ff2a2a" stroke-width="2.3" opacity="0.78"/>
<path d="M1333.0 1065.2H1360.0" stroke="#ff2a2a" stroke-width="2.3" opacity="0.62"/><path d="M1346.5 1050.2V1080.2" stroke="#ff2a2a" stroke-width="2.3" opacity="0.62"/>
<path d="M1613.9 1135.6H1640.9" stroke="#ff2a2a" stroke-width="2.3" opacity="0.78"/><path d="M1627.4 1120.6V1150.6" stroke="#ff2a2a" stroke-width="2.3" opacity="0.78"/>
<path d="M1908.7 1135.6H1935.7" stroke="#ff2a2a" stroke-width="2.3" opacity="0.78"/><path d="M1922.2 1120.6V1150.6" stroke="#ff2a2a" stroke-width="2.3" opacity="0.78"/>
<path d="M2094 1138.3H2119.5M2107.2 1122V1153" stroke="#ff2a2a" stroke-width="2.3"/>
<path d="M433.5 1503.0H460.5" stroke="#ff2a2a" stroke-width="2.3" opacity="0.23"/><path d="M447.0 1488.0V1518.0" stroke="#ff2a2a" stroke-width="2.3" opacity="0.78"/>
<path d="M589.5 1441.4H616.5" stroke="#ff2a2a" stroke-width="2.3" opacity="0.78"/><path d="M603.0 1426.4V1456.4" stroke="#ff2a2a" stroke-width="2.3" opacity="0.78"/>
<path d="M697.9 1229.6H724.9" stroke="#ff2a2a" stroke-width="2.3" opacity="0.20"/><path d="M711.4 1214.6V1244.6" stroke="#ff2a2a" stroke-width="2.3" opacity="0.23"/>
<path d="M806.9 1506.5H833.9" stroke="#ff2a2a" stroke-width="2.3" opacity="0.78"/><path d="M820.4 1491.5V1521.5" stroke="#ff2a2a" stroke-width="2.3" opacity="0.78"/>
<path d="M1077.1 1503.0H1104.1" stroke="#ff2a2a" stroke-width="2.3" opacity="0.23"/><path d="M1090.6 1488.0V1518.0" stroke="#ff2a2a" stroke-width="2.3" opacity="0.78"/>
<path d="M1330.5 1478.9H1357.5" stroke="#ff2a2a" stroke-width="2.3" opacity="0.78"/><path d="M1344.0 1463.9V1493.9" stroke="#ff2a2a" stroke-width="2.3" opacity="0.78"/>
</g>
<g id="frame" fill="#000">
<rect x="143.8" y="41.3" width="3.1" height="1562.4" fill="#6b706b"/>
<rect x="146.7" y="41.3" width="2.3" height="1562.4"/>
<rect x="2119.7" y="44.0" width="5.2" height="1559.8"/>
<rect x="143.8" y="41.3" width="1978.2" height="5.5"/>
<rect x="149.0" y="46.8" width="1970.7" height="2.6" fill="#a9a9a2"/>
<rect x="149.0" y="423.1" width="1970.7" height="3.2" fill="#646b64"/>
<rect x="146.7" y="426.1" width="1973.2" height="4.9"/>
<rect x="146.7" y="804.9" width="1973.2" height="4.9"/>
<rect x="149.0" y="809.7" width="1970.7" height="3.1" fill="#646b64"/>
<rect x="149.0" y="1186.2" width="1970.7" height="3.1" fill="#a8a8a0"/>
<rect x="146.7" y="1189.1" width="1973.2" height="5.6"/>
<rect x="146.7" y="1568.1" width="1973.2" height="5.7" fill="#0a0a0a"/>
<rect x="146.7" y="1573.7" width="1973.2" height="2.1" fill="#333"/>
<rect x="309.1" y="430.5" width="5.0" height="13.8" fill="#161616"/>
<rect x="474.4" y="430.5" width="5.0" height="28.1" fill="#161616"/>
<rect x="639.6" y="430.5" width="5.0" height="13.8" fill="#161616"/>
<rect x="803.5" y="430.5" width="5.0" height="28.1" fill="#161616"/>
<rect x="967.2" y="430.5" width="5.0" height="13.8" fill="#161616"/>
<rect x="1130.4" y="430.5" width="5.0" height="28.1" fill="#161616"/>
<rect x="1296.6" y="430.5" width="5.0" height="13.8" fill="#161616"/>
<rect x="1460.4" y="430.5" width="5.0" height="28.1" fill="#161616"/>
<rect x="1626.2" y="430.5" width="5.0" height="13.8" fill="#161616"/>
<rect x="1791.1" y="430.5" width="5.0" height="28.1" fill="#161616"/>
<rect x="1955.9" y="430.5" width="5.0" height="13.8" fill="#161616"/>
<rect x="309.1" y="812.3" width="5.0" height="13.8" fill="#161616"/>
<rect x="474.4" y="812.3" width="5.0" height="28.1" fill="#161616"/>
<rect x="639.6" y="812.3" width="5.0" height="13.8" fill="#161616"/>
<rect x="803.5" y="812.3" width="5.0" height="28.1" fill="#161616"/>
<rect x="967.2" y="812.3" width="5.0" height="13.8" fill="#161616"/>
<rect x="1130.4" y="812.3" width="5.0" height="28.1" fill="#161616"/>
<rect x="1296.6" y="812.3" width="5.0" height="13.8" fill="#161616"/>
<rect x="1460.4" y="812.3" width="5.0" height="28.1" fill="#161616"/>
<rect x="1626.2" y="812.3" width="5.0" height="13.8" fill="#161616"/>
<rect x="1791.1" y="812.3" width="5.0" height="28.1" fill="#161616"/>
<rect x="1955.9" y="812.3" width="5.0" height="13.8" fill="#161616"/>
<rect x="309.1" y="1194.2" width="5.0" height="13.8" fill="#161616"/>
<rect x="474.4" y="1194.2" width="5.0" height="28.1" fill="#161616"/>
<rect x="639.6" y="1194.2" width="5.0" height="13.8" fill="#161616"/>
<rect x="803.5" y="1194.2" width="5.0" height="28.1" fill="#161616"/>
<rect x="967.2" y="1194.2" width="5.0" height="13.8" fill="#161616"/>
<rect x="1130.4" y="1194.2" width="5.0" height="28.1" fill="#161616"/>
<rect x="1296.6" y="1194.2" width="5.0" height="13.8" fill="#161616"/>
<rect x="1460.4" y="1194.2" width="5.0" height="28.1" fill="#161616"/>
<rect x="1626.2" y="1194.2" width="5.0" height="13.8" fill="#161616"/>
<rect x="1791.1" y="1194.2" width="5.0" height="28.1" fill="#161616"/>
<rect x="1955.9" y="1194.2" width="5.0" height="13.8" fill="#161616"/>
<rect x="309.1" y="1575.1" width="5.0" height="14.6" fill="#161616"/>
<rect x="474.4" y="1575.1" width="5.0" height="28.5" fill="#161616"/>
<rect x="639.6" y="1575.1" width="5.0" height="14.6" fill="#161616"/>
<rect x="803.5" y="1575.1" width="5.0" height="28.5" fill="#161616"/>
<rect x="967.2" y="1575.1" width="5.0" height="14.6" fill="#161616"/>
<rect x="1130.4" y="1575.1" width="5.0" height="28.5" fill="#161616"/>
<rect x="1296.6" y="1575.1" width="5.0" height="14.6" fill="#161616"/>
<rect x="1460.4" y="1575.1" width="5.0" height="28.5" fill="#161616"/>
<rect x="1626.2" y="1575.1" width="5.0" height="14.6" fill="#161616"/>
<rect x="1791.1" y="1575.1" width="5.0" height="28.5" fill="#161616"/>
<rect x="1955.9" y="1575.1" width="5.0" height="14.6" fill="#161616"/>
</g>
<clipPath id="cl70"><rect x="2060" y="700" width="59.6" height="60"/></clipPath>
<text transform="translate(400.7 331.4) scale(1 1.05)" style="font-size:37px;letter-spacing:-0.28px">19.08</text>
<text transform="translate(617.8 211.4) scale(1 1.05)" style="font-size:37px;letter-spacing:-0.40px">25.66</text>
<text transform="translate(669.2 86.0) scale(1 1.05)" style="font-size:37px;letter-spacing:-0.08px">26.9</text>
<text transform="translate(796.0 245.0) scale(1 1.05)" style="font-size:37px;letter-spacing:-0.95px">31.04</text>
<text transform="translate(971.6 293.7) scale(1 1.05)" style="font-size:37px;letter-spacing:-0.73px">36.36</text>
<text transform="translate(1049.4 338.0) scale(1 1.05)" style="font-size:37px;letter-spacing:-0.98px">38.74</text>
<text transform="translate(1239.5 372.4) scale(1 1.05)" style="font-size:37px;letter-spacing:-0.88px">44.54</text>
<text transform="translate(1395.0 374.4) scale(1 1.05)" style="font-size:37px;letter-spacing:-0.65px">49.28</text>
<text transform="translate(349.8 695.0) scale(1 1.05)" style="font-size:37px;letter-spacing:-0.15px">17.52</text>
<text transform="translate(562.5 470.0) scale(1 1.05)" style="font-size:37px;letter-spacing:-0.10px">23.98</text>
<text transform="translate(792.0 466.9) scale(1 1.05)" style="font-size:37px;letter-spacing:-0.63px">30.94</text>
<text transform="translate(898.7 710.9) scale(1 1.05)" style="font-size:37px;letter-spacing:-0.25px">34.18</text>
<text transform="translate(1045.3 736.7) scale(1 1.05)" style="font-size:37px;letter-spacing:-0.05px">38.66</text>
<text transform="translate(1312.7 605.0) scale(1 1.05)" style="font-size:37px;letter-spacing:-0.18px">46.78</text>
<text transform="translate(1732.5 747.8) scale(1 1.05)" style="font-size:37px;letter-spacing:0.09px">59.2</text>
<text transform="translate(1906.0 752.4) scale(1 1.05)" style="font-size:37px;letter-spacing:-0.28px">64.5</text>
<text transform="translate(349.8 1081.4) scale(1 1.05)" style="font-size:37px;letter-spacing:-0.00px">17.52</text>
<text transform="translate(580.0 851.4) scale(1 1.05)" style="font-size:37px;letter-spacing:-0.40px">23.98</text>
<text transform="translate(791.5 1000.7) scale(1 1.05)" style="font-size:37px;letter-spacing:-0.38px">30.94</text>
<text transform="translate(1304.8 1039.2) scale(1 1.05)" style="font-size:37px;letter-spacing:-0.63px">46.78</text>
<text transform="translate(400.7 1463.6) scale(1 1.05)" style="font-size:37px;letter-spacing:-0.13px">19.08</text>
<text transform="translate(562.0 1422.8) scale(1 1.05)" style="font-size:37px;letter-spacing:0.10px">23.98</text>
<text transform="translate(676.0 1245.8) scale(1 1.05)" style="font-size:37px;letter-spacing:0.15px">26.9</text>
<text transform="translate(1302.5 1455.6) scale(1 1.05)" style="font-size:37px;letter-spacing:-0.30px">46.78</text>
<g clip-path="url(#cl70)"><text transform="translate(2082.9 745.0) scale(1 1.05)" style="font-size:37px;letter-spacing:1.02px">70</text></g>
<text x="157.3" y="124.4" style="font-size:58px;letter-spacing:-1.04px">(d)</text>
<text x="157.3" y="514.2" style="font-size:58px;letter-spacing:-0.51px">(c)</text>
<text x="164.0" y="893.2" style="font-size:58px;letter-spacing:-0.19px">(b)</text>
<text x="164.0" y="1281.8" style="font-size:58px;letter-spacing:-0.29px">(a)</text>
<text><tspan x="1701.3" y="128.0" style="font-size:58px;letter-spacing:-3.19px">DKDP </tspan><tspan x="1862.8" y="128.0" style="font-size:58px;letter-spacing:0.00px;font-style:italic">P</tspan><tspan x="1898.8" y="128.0" style="font-size:58px;letter-spacing:0.00px">2</tspan><tspan x="1928.5" y="149.8" style="font-size:36px;letter-spacing:0.00px">1</tspan><tspan x="1947.2" y="128.0" style="font-size:58px;letter-spacing:0.00px">/</tspan><tspan x="1961.8" y="128.0" style="font-size:58px;letter-spacing:0.00px">c</tspan></text>
<text><tspan x="1693.2" y="543.2" style="font-size:58px;letter-spacing:-2.99px">DKDP </tspan><tspan x="1855.5" y="543.2" style="font-size:58px;letter-spacing:-1.81px">I-42d</tspan></text>
<text x="1677.9" y="935.4" style="font-size:57px;letter-spacing:-1.52px">after grinding</text>
<text x="1676.9" y="1292.6" style="font-size:57px;letter-spacing:-1.68px">before grinding</text>
<text x="117.0" y="1667.8" style="font-size:58.5px;letter-spacing:-3.93px">10</text>
<text x="444.7" y="1667.8" style="font-size:58.5px;letter-spacing:-1.73px">20</text>
<text x="776.2" y="1667.8" style="font-size:58.5px;letter-spacing:-4.13px">30</text>
<text x="1102.9" y="1667.8" style="font-size:58.5px;letter-spacing:-3.13px">40</text>
<text x="1433.0" y="1667.8" style="font-size:58.5px;letter-spacing:-2.53px">50</text>
<text x="1763.4" y="1667.8" style="font-size:58.5px;letter-spacing:-4.33px">60</text>
<text x="2090.9" y="1667.8" style="font-size:58.5px;letter-spacing:-3.43px">70</text>
<text><tspan x="943.9" y="1794.4" style="font-size:72px;letter-spacing:-3.82px">2Theta </tspan><tspan x="1166.0" y="1794.4" style="font-size:72px;letter-spacing:0.00px">(</tspan><tspan x="1187.6" y="1781.4" style="font-size:70px;letter-spacing:0.00px">°</tspan><tspan x="1214.9" y="1794.4" style="font-size:72px;letter-spacing:0.00px">)</tspan></text>
<text transform="translate(86.0 1038.2) rotate(-90)" x="0" y="0" style="font-size:75.5px;letter-spacing:-0.95px">Intensity (a.u.)</text>
</g>
</svg></body></html>
